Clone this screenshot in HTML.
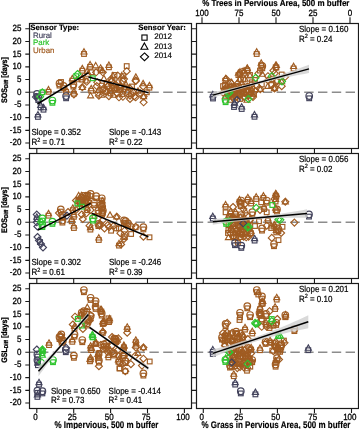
<!DOCTYPE html>
<html><head><meta charset="utf-8"><style>
html,body{margin:0;padding:0;background:#fff;width:359px;height:429px;overflow:hidden}
svg{display:block;will-change:transform}
.t{font-family:"Liberation Sans",sans-serif;font-size:8px;stroke:currentColor;stroke-width:0.18px}
text{fill:currentColor;color:#000;text-rendering:geometricPrecision}
.b{font-family:"Liberation Sans",sans-serif;font-size:8px;font-weight:bold;stroke:currentColor;stroke-width:0.15px}
.sub{font-size:5.5px}
.n{font-family:"Liberation Sans",sans-serif;font-size:8px;stroke:currentColor;stroke-width:0.25px}
.sup{font-size:5.5px}
</style></head><body>
<svg width="359" height="429" viewBox="0 0 359 429">
<rect width="359" height="429" fill="#fff"/>
<line x1="29.5" y1="92.25" x2="191.5" y2="92.25" stroke="#8c8c8c" stroke-width="1.4" stroke-dasharray="9.4 4.4" stroke-dashoffset="4.3"/>
<line x1="196.5" y1="92.25" x2="358.5" y2="92.25" stroke="#8c8c8c" stroke-width="1.4" stroke-dasharray="9.4 4.4" stroke-dashoffset="2.7"/>
<line x1="29.5" y1="222.25" x2="191.5" y2="222.25" stroke="#8c8c8c" stroke-width="1.4" stroke-dasharray="9.4 4.4" stroke-dashoffset="4.3"/>
<line x1="196.5" y1="222.25" x2="358.5" y2="222.25" stroke="#8c8c8c" stroke-width="1.4" stroke-dasharray="9.4 4.4" stroke-dashoffset="2.7"/>
<line x1="29.5" y1="352.25" x2="191.5" y2="352.25" stroke="#8c8c8c" stroke-width="1.4" stroke-dasharray="9.4 4.4" stroke-dashoffset="4.3"/>
<line x1="196.5" y1="352.25" x2="358.5" y2="352.25" stroke="#8c8c8c" stroke-width="1.4" stroke-dasharray="9.4 4.4" stroke-dashoffset="2.7"/>
<g fill="none" stroke-width="1.15">
<rect x="46.15" y="89.45" width="4.70" height="4.70" stroke="#a05c22"/>
<path d="M48.50 86.50L51.50 91.80H45.50Z" stroke="#a05c22"/>
<circle cx="59.50" cy="83.40" r="3.3" stroke="#a05c22"/>
<rect x="57.15" y="83.25" width="4.70" height="4.70" stroke="#a05c22"/>
<circle cx="63.50" cy="85.90" r="3.3" stroke="#a05c22"/>
<rect x="61.15" y="85.75" width="4.70" height="4.70" stroke="#a05c22"/>
<rect x="58.65" y="79.65" width="4.70" height="4.70" stroke="#a05c22"/>
<rect x="63.75" y="89.45" width="4.70" height="4.70" stroke="#a05c22"/>
<path d="M66.10 86.50L69.10 91.80H63.10Z" stroke="#a05c22"/>
<circle cx="73.40" cy="84.40" r="3.3" stroke="#a05c22"/>
<rect x="71.05" y="84.25" width="4.70" height="4.70" stroke="#a05c22"/>
<rect x="71.55" y="91.35" width="4.70" height="4.70" stroke="#a05c22"/>
<path d="M73.90 88.40L76.90 93.70H70.90Z" stroke="#a05c22"/>
<path d="M73.90 91.00L77.40 94.50L73.90 98.00L70.40 94.50Z" stroke="#a05c22"/>
<path d="M76.70 76.40L79.70 81.70H73.70Z" stroke="#a05c22"/>
<rect x="69.95" y="78.35" width="4.70" height="4.70" stroke="#a05c22"/>
<path d="M72.30 75.40L75.30 80.70H69.30Z" stroke="#a05c22"/>
<rect x="81.65" y="51.65" width="4.70" height="4.70" stroke="#a05c22"/>
<path d="M84.00 48.70L87.00 54.00H81.00Z" stroke="#a05c22"/>
<rect x="87.75" y="64.45" width="4.70" height="4.70" stroke="#a05c22"/>
<path d="M90.10 61.50L93.10 66.80H87.10Z" stroke="#a05c22"/>
<path d="M95.70 62.50L98.70 67.80H92.70Z" stroke="#a05c22"/>
<rect x="79.95" y="68.35" width="4.70" height="4.70" stroke="#a05c22"/>
<path d="M82.30 65.40L85.30 70.70H79.30Z" stroke="#a05c22"/>
<rect x="79.95" y="77.25" width="4.70" height="4.70" stroke="#a05c22"/>
<path d="M82.30 74.30L85.30 79.60H79.30Z" stroke="#a05c22"/>
<path d="M87.90 70.90L90.90 76.20H84.90Z" stroke="#a05c22"/>
<path d="M86.70 78.30L90.20 81.80L86.70 85.30L83.20 81.80Z" stroke="#a05c22"/>
<path d="M82.30 84.20L85.30 89.50H79.30Z" stroke="#a05c22"/>
<path d="M82.30 83.80L85.80 87.30L82.30 90.80L78.80 87.30Z" stroke="#a05c22"/>
<rect x="83.25" y="78.25" width="4.70" height="4.70" stroke="#a05c22"/>
<rect x="88.85" y="88.35" width="4.70" height="4.70" stroke="#a05c22"/>
<path d="M91.20 85.40L94.20 90.70H88.20Z" stroke="#a05c22"/>
<path d="M90.60 92.50L93.60 97.80H87.60Z" stroke="#a05c22"/>
<path d="M96.80 82.60L100.30 86.10L96.80 89.60L93.30 86.10Z" stroke="#a05c22"/>
<path d="M97.90 89.30L101.40 92.80L97.90 96.30L94.40 92.80Z" stroke="#a05c22"/>
<path d="M87.20 68.00L90.20 73.30H84.20Z" stroke="#a05c22"/>
<rect x="89.35" y="69.95" width="4.70" height="4.70" stroke="#a05c22"/>
<path d="M96.10 68.80L99.60 72.30L96.10 75.80L92.60 72.30Z" stroke="#a05c22"/>
<rect x="98.25" y="67.75" width="4.70" height="4.70" stroke="#a05c22"/>
<path d="M100.60 64.80L103.60 70.10H97.60Z" stroke="#a05c22"/>
<path d="M102.80 68.80L106.30 72.30L102.80 75.80L99.30 72.30Z" stroke="#a05c22"/>
<rect x="106.55" y="64.95" width="4.70" height="4.70" stroke="#a05c22"/>
<path d="M108.90 62.00L111.90 67.30H105.90Z" stroke="#a05c22"/>
<path d="M102.20 67.50L105.20 72.80H99.20Z" stroke="#a05c22"/>
<path d="M103.90 75.30L106.90 80.60H100.90Z" stroke="#a05c22"/>
<rect x="112.15" y="72.65" width="4.70" height="4.70" stroke="#a05c22"/>
<path d="M117.80 72.10L121.30 75.60L117.80 79.10L114.30 75.60Z" stroke="#a05c22"/>
<rect x="121.05" y="73.85" width="4.70" height="4.70" stroke="#a05c22"/>
<path d="M124.00 75.50L127.50 79.00L124.00 82.50L120.50 79.00Z" stroke="#a05c22"/>
<path d="M111.10 75.50L114.60 79.00L111.10 82.50L107.60 79.00Z" stroke="#a05c22"/>
<rect x="124.35" y="63.75" width="4.70" height="4.70" stroke="#a05c22"/>
<path d="M126.70 67.70L130.20 71.20L126.70 74.70L123.20 71.20Z" stroke="#a05c22"/>
<path d="M112.90 72.50L115.90 77.80H109.90Z" stroke="#a05c22"/>
<path d="M121.80 72.50L124.80 77.80H118.80Z" stroke="#a05c22"/>
<path d="M111.70 77.70L115.20 81.20L111.70 84.70L108.20 81.20Z" stroke="#a05c22"/>
<rect x="116.05" y="79.95" width="4.70" height="4.70" stroke="#a05c22"/>
<path d="M122.90 77.70L126.40 81.20L122.90 84.70L119.40 81.20Z" stroke="#a05c22"/>
<path d="M97.30 78.80L100.80 82.30L97.30 85.80L93.80 82.30Z" stroke="#a05c22"/>
<rect x="99.35" y="83.25" width="4.70" height="4.70" stroke="#a05c22"/>
<path d="M107.30 83.20L110.80 86.70L107.30 90.20L103.80 86.70Z" stroke="#a05c22"/>
<rect x="111.65" y="85.55" width="4.70" height="4.70" stroke="#a05c22"/>
<path d="M120.70 84.40L124.20 87.90L120.70 91.40L117.20 87.90Z" stroke="#a05c22"/>
<path d="M98.40 87.00L101.40 92.30H95.40Z" stroke="#a05c22"/>
<path d="M105.00 87.70L108.50 91.20L105.00 94.70L101.50 91.20Z" stroke="#a05c22"/>
<rect x="108.25" y="91.05" width="4.70" height="4.70" stroke="#a05c22"/>
<path d="M117.30 89.90L120.80 93.40L117.30 96.90L113.80 93.40Z" stroke="#a05c22"/>
<path d="M122.90 93.30L126.40 96.80L122.90 100.30L119.40 96.80Z" stroke="#a05c22"/>
<path d="M98.90 92.20L102.40 95.70L98.90 99.20L95.40 95.70Z" stroke="#a05c22"/>
<rect x="100.95" y="87.15" width="4.70" height="4.70" stroke="#a05c22"/>
<path d="M106.70 88.20L110.20 91.70L106.70 95.20L103.20 91.70Z" stroke="#a05c22"/>
<path d="M101.70 91.90L104.70 97.20H98.70Z" stroke="#a05c22"/>
<rect x="112.15" y="87.15" width="4.70" height="4.70" stroke="#a05c22"/>
<path d="M116.70 84.90L120.20 88.40L116.70 91.90L113.20 88.40Z" stroke="#a05c22"/>
<rect x="119.95" y="91.65" width="4.70" height="4.70" stroke="#a05c22"/>
<path d="M119.00 93.80L122.50 97.30L119.00 100.80L115.50 97.30Z" stroke="#a05c22"/>
<path d="M130.00 92.10L133.50 95.60L130.00 99.10L126.50 95.60Z" stroke="#a05c22"/>
<rect x="125.55" y="89.35" width="4.70" height="4.70" stroke="#a05c22"/>
<path d="M133.40 89.30L136.90 92.80L133.40 96.30L129.90 92.80Z" stroke="#a05c22"/>
<path d="M113.40 91.90L116.40 97.20H110.40Z" stroke="#a05c22"/>
<path d="M108.90 92.70L112.40 96.20L108.90 99.70L105.40 96.20Z" stroke="#a05c22"/>
<rect x="104.35" y="81.55" width="4.70" height="4.70" stroke="#a05c22"/>
<path d="M111.10 78.20L114.60 81.70L111.10 85.20L107.60 81.70Z" stroke="#a05c22"/>
<rect x="122.15" y="84.95" width="4.70" height="4.70" stroke="#a05c22"/>
<path d="M120.00 82.60L123.50 86.10L120.00 89.60L116.50 86.10Z" stroke="#a05c22"/>
<path d="M130.00 95.50L133.50 99.00L130.00 102.50L126.50 99.00Z" stroke="#a05c22"/>
<path d="M135.70 93.80L139.20 97.30L135.70 100.80L132.20 97.30Z" stroke="#a05c22"/>
<path d="M126.00 81.40L129.00 86.70H123.00Z" stroke="#a05c22"/>
<path d="M129.50 84.50L133.00 88.00L129.50 91.50L126.00 88.00Z" stroke="#a05c22"/>
<rect x="129.65" y="84.15" width="4.70" height="4.70" stroke="#a05c22"/>
<path d="M135.80 73.90L138.80 79.20H132.80Z" stroke="#a05c22"/>
<path d="M135.80 77.50L139.30 81.00L135.80 84.50L132.30 81.00Z" stroke="#a05c22"/>
<path d="M135.70 77.10L139.20 80.60L135.70 84.10L132.20 80.60Z" stroke="#a05c22"/>
<path d="M143.10 80.40L146.10 85.70H140.10Z" stroke="#a05c22"/>
<path d="M143.10 83.00L146.60 86.50L143.10 90.00L139.60 86.50Z" stroke="#a05c22"/>
<rect x="147.05" y="85.35" width="4.70" height="4.70" stroke="#a05c22"/>
<path d="M149.40 82.40L152.40 87.70H146.40Z" stroke="#a05c22"/>
<rect x="128.65" y="92.05" width="4.70" height="4.70" stroke="#a05c22"/>
<path d="M134.20 93.00L137.70 96.50L134.20 100.00L130.70 96.50Z" stroke="#a05c22"/>
<path d="M143.60 93.40L146.60 98.70H140.60Z" stroke="#a05c22"/>
<path d="M143.60 93.00L147.10 96.50L143.60 100.00L140.10 96.50Z" stroke="#a05c22"/>
<path d="M143.60 98.80L147.10 102.30L143.60 105.80L140.10 102.30Z" stroke="#a05c22"/>
<path d="M140.50 89.80L144.00 93.30L140.50 96.80L137.00 93.30Z" stroke="#a05c22"/>
<rect x="144.45" y="89.95" width="4.70" height="4.70" stroke="#a05c22"/>
<path d="M138.00 87.90L141.00 93.20H135.00Z" stroke="#a05c22"/>
<path d="M108.00 82.50L111.50 86.00L108.00 89.50L104.50 86.00Z" stroke="#a05c22"/>
<rect x="109.65" y="85.65" width="4.70" height="4.70" stroke="#a05c22"/>
<path d="M116.00 81.50L119.50 85.00L116.00 88.50L112.50 85.00Z" stroke="#a05c22"/>
<rect x="117.65" y="87.65" width="4.70" height="4.70" stroke="#a05c22"/>
<path d="M125.00 85.50L128.50 89.00L125.00 92.50L121.50 89.00Z" stroke="#a05c22"/>
<rect x="107.65" y="88.65" width="4.70" height="4.70" stroke="#a05c22"/>
<path d="M104.00 84.50L107.50 88.00L104.00 91.50L100.50 88.00Z" stroke="#a05c22"/>
<rect x="254.35" y="51.65" width="4.70" height="4.70" stroke="#a05c22"/>
<path d="M256.70 48.70L259.70 54.00H253.70Z" stroke="#a05c22"/>
<rect x="291.25" y="66.15" width="4.70" height="4.70" stroke="#a05c22"/>
<path d="M293.60 63.20L296.60 68.50H290.60Z" stroke="#a05c22"/>
<rect x="274.05" y="65.15" width="4.70" height="4.70" stroke="#a05c22"/>
<path d="M276.40 62.20L279.40 67.50H273.40Z" stroke="#a05c22"/>
<rect x="273.35" y="65.05" width="4.70" height="4.70" stroke="#a05c22"/>
<path d="M275.70 62.10L278.70 67.40H272.70Z" stroke="#a05c22"/>
<circle cx="262.30" cy="66.10" r="3.3" stroke="#a05c22"/>
<rect x="259.95" y="65.95" width="4.70" height="4.70" stroke="#a05c22"/>
<rect x="258.85" y="62.85" width="4.70" height="4.70" stroke="#a05c22"/>
<path d="M261.20 59.90L264.20 65.20H258.20Z" stroke="#a05c22"/>
<rect x="244.95" y="68.35" width="4.70" height="4.70" stroke="#a05c22"/>
<path d="M247.30 65.40L250.30 70.70H244.30Z" stroke="#a05c22"/>
<rect x="244.85" y="67.85" width="4.70" height="4.70" stroke="#a05c22"/>
<path d="M247.20 64.90L250.20 70.20H244.20Z" stroke="#a05c22"/>
<rect x="237.65" y="71.65" width="4.70" height="4.70" stroke="#a05c22"/>
<path d="M240.00 68.70L243.00 74.00H237.00Z" stroke="#a05c22"/>
<rect x="236.05" y="72.75" width="4.70" height="4.70" stroke="#a05c22"/>
<path d="M238.40 69.80L241.40 75.10H235.40Z" stroke="#a05c22"/>
<rect x="223.25" y="78.35" width="4.70" height="4.70" stroke="#a05c22"/>
<path d="M225.60 75.40L228.60 80.70H222.60Z" stroke="#a05c22"/>
<rect x="241.65" y="70.55" width="4.70" height="4.70" stroke="#a05c22"/>
<path d="M244.00 67.60L247.00 72.90H241.00Z" stroke="#a05c22"/>
<path d="M226.10 75.50L229.60 79.00L226.10 82.50L222.60 79.00Z" stroke="#a05c22"/>
<rect x="222.65" y="82.65" width="4.70" height="4.70" stroke="#a05c22"/>
<path d="M231.70 79.20L234.70 84.50H228.70Z" stroke="#a05c22"/>
<path d="M230.60 79.30L234.10 82.80L230.60 86.30L227.10 82.80Z" stroke="#a05c22"/>
<rect x="223.85" y="87.15" width="4.70" height="4.70" stroke="#a05c22"/>
<path d="M232.90 84.90L236.40 88.40L232.90 91.90L229.40 88.40Z" stroke="#a05c22"/>
<path d="M239.50 75.90L242.50 81.20H236.50Z" stroke="#a05c22"/>
<rect x="238.35" y="77.15" width="4.70" height="4.70" stroke="#a05c22"/>
<path d="M237.30 80.40L240.80 83.90L237.30 87.40L233.80 83.90Z" stroke="#a05c22"/>
<path d="M245.00 75.90L248.00 81.20H242.00Z" stroke="#a05c22"/>
<path d="M242.90 83.80L246.40 87.30L242.90 90.80L239.40 87.30Z" stroke="#a05c22"/>
<path d="M238.40 88.20L241.90 91.70L238.40 95.20L234.90 91.70Z" stroke="#a05c22"/>
<path d="M250.00 72.50L253.00 77.80H247.00Z" stroke="#a05c22"/>
<rect x="247.65" y="72.65" width="4.70" height="4.70" stroke="#a05c22"/>
<path d="M242.20 68.20L245.70 71.70L242.20 75.20L238.70 71.70Z" stroke="#a05c22"/>
<rect x="240.95" y="77.15" width="4.70" height="4.70" stroke="#a05c22"/>
<path d="M241.70 81.00L245.20 84.50L241.70 88.00L238.20 84.50Z" stroke="#a05c22"/>
<path d="M247.30 83.10L250.30 88.40H244.30Z" stroke="#a05c22"/>
<rect x="249.35" y="79.95" width="4.70" height="4.70" stroke="#a05c22"/>
<path d="M258.40 69.90L261.90 73.40L258.40 76.90L254.90 73.40Z" stroke="#a05c22"/>
<rect x="257.65" y="68.25" width="4.70" height="4.70" stroke="#a05c22"/>
<path d="M262.30 70.90L265.30 76.20H259.30Z" stroke="#a05c22"/>
<path d="M267.90 72.70L271.40 76.20L267.90 79.70L264.40 76.20Z" stroke="#a05c22"/>
<path d="M273.40 67.10L276.90 70.60L273.40 74.10L269.90 70.60Z" stroke="#a05c22"/>
<rect x="259.45" y="82.15" width="4.70" height="4.70" stroke="#a05c22"/>
<path d="M260.30 86.10L263.30 91.40H257.30Z" stroke="#a05c22"/>
<path d="M260.30 85.70L263.80 89.20L260.30 92.70L256.80 89.20Z" stroke="#a05c22"/>
<path d="M267.90 83.00L270.90 88.30H264.90Z" stroke="#a05c22"/>
<path d="M274.50 85.30L277.50 90.60H271.50Z" stroke="#a05c22"/>
<path d="M274.50 84.90L278.00 88.40L274.50 91.90L271.00 88.40Z" stroke="#a05c22"/>
<path d="M276.80 78.20L280.30 81.70L276.80 85.20L273.30 81.70Z" stroke="#a05c22"/>
<path d="M274.70 69.80L278.20 73.30L274.70 76.80L271.20 73.30Z" stroke="#a05c22"/>
<rect x="279.35" y="72.15" width="4.70" height="4.70" stroke="#a05c22"/>
<path d="M285.20 73.30L288.70 76.80L285.20 80.30L281.70 76.80Z" stroke="#a05c22"/>
<rect x="269.95" y="76.85" width="4.70" height="4.70" stroke="#a05c22"/>
<path d="M277.00 76.80L280.50 80.30L277.00 83.80L273.50 80.30Z" stroke="#a05c22"/>
<path d="M281.70 78.40L284.70 83.70H278.70Z" stroke="#a05c22"/>
<path d="M274.70 83.80L278.20 87.30L274.70 90.80L271.20 87.30Z" stroke="#a05c22"/>
<path d="M281.70 82.70L285.20 86.20L281.70 89.70L278.20 86.20Z" stroke="#a05c22"/>
<rect x="268.85" y="82.65" width="4.70" height="4.70" stroke="#a05c22"/>
<path d="M268.00 77.00L271.50 80.50L268.00 84.00L264.50 80.50Z" stroke="#a05c22"/>
<rect x="252.65" y="77.65" width="4.70" height="4.70" stroke="#a05c22"/>
<path d="M256.00 81.50L259.50 85.00L256.00 88.50L252.50 85.00Z" stroke="#a05c22"/>
<path d="M228.00 84.50L231.50 88.00L228.00 91.50L224.50 88.00Z" stroke="#a05c22"/>
<rect x="228.65" y="89.65" width="4.70" height="4.70" stroke="#a05c22"/>
<path d="M235.00 85.50L238.50 89.00L235.00 92.50L231.50 89.00Z" stroke="#a05c22"/>
<rect x="235.65" y="91.65" width="4.70" height="4.70" stroke="#a05c22"/>
<path d="M242.00 87.50L245.50 91.00L242.00 94.50L238.50 91.00Z" stroke="#a05c22"/>
<path d="M245.00 90.90L248.00 96.20H242.00Z" stroke="#a05c22"/>
<path d="M248.00 86.50L251.50 90.00L248.00 93.50L244.50 90.00Z" stroke="#a05c22"/>
<rect x="248.65" y="90.65" width="4.70" height="4.70" stroke="#a05c22"/>
<path d="M244.00 93.50L247.50 97.00L244.00 100.50L240.50 97.00Z" stroke="#a05c22"/>
<path d="M236.00 93.50L239.50 97.00L236.00 100.50L232.50 97.00Z" stroke="#a05c22"/>
<rect x="249.65" y="85.65" width="4.70" height="4.70" stroke="#a05c22"/>
<path d="M255.00 87.50L258.50 91.00L255.00 94.50L251.50 91.00Z" stroke="#a05c22"/>
<path d="M247.00 96.90L250.00 102.20H244.00Z" stroke="#a05c22"/>
<rect x="237.65" y="96.65" width="4.70" height="4.70" stroke="#a05c22"/>
<path d="M232.00 93.50L235.50 97.00L232.00 100.50L228.50 97.00Z" stroke="#a05c22"/>
<path d="M230.00 96.90L233.00 102.20H227.00Z" stroke="#a05c22"/>
<path d="M253.00 93.50L256.50 97.00L253.00 100.50L249.50 97.00Z" stroke="#a05c22"/>
<rect x="224.65" y="87.65" width="4.70" height="4.70" stroke="#a05c22"/>
<path d="M233.00 89.50L236.50 93.00L233.00 96.50L229.50 93.00Z" stroke="#a05c22"/>
<rect x="233.65" y="83.65" width="4.70" height="4.70" stroke="#a05c22"/>
<path d="M240.00 91.50L243.50 95.00L240.00 98.50L236.50 95.00Z" stroke="#a05c22"/>
<rect x="241.65" y="86.65" width="4.70" height="4.70" stroke="#a05c22"/>
<path d="M249.00 91.50L252.50 95.00L249.00 98.50L245.50 95.00Z" stroke="#a05c22"/>
<rect x="243.65" y="89.65" width="4.70" height="4.70" stroke="#a05c22"/>
<path d="M237.00 86.50L240.50 90.00L237.00 93.50L233.50 90.00Z" stroke="#a05c22"/>
<rect x="227.65" y="84.65" width="4.70" height="4.70" stroke="#a05c22"/>
<path d="M251.00 81.50L254.50 85.00L251.00 88.50L247.50 85.00Z" stroke="#a05c22"/>
<rect x="251.65" y="91.65" width="4.70" height="4.70" stroke="#a05c22"/>
<rect x="220.75" y="83.75" width="4.70" height="4.70" stroke="#a05c22"/>
<path d="M227.00 82.90L230.00 88.20H224.00Z" stroke="#a05c22"/>
<path d="M231.30 83.00L234.80 86.50L231.30 90.00L227.80 86.50Z" stroke="#a05c22"/>
<rect x="231.55" y="84.45" width="4.70" height="4.70" stroke="#a05c22"/>
<path d="M238.00 83.80L241.00 89.10H235.00Z" stroke="#a05c22"/>
<rect x="239.85" y="84.55" width="4.70" height="4.70" stroke="#a05c22"/>
<path d="M246.20 83.60L249.20 88.90H243.20Z" stroke="#a05c22"/>
<path d="M249.10 83.50L252.60 87.00L249.10 90.50L245.60 87.00Z" stroke="#a05c22"/>
<path d="M224.50 85.60L228.00 89.10L224.50 92.60L221.00 89.10Z" stroke="#a05c22"/>
<path d="M228.60 86.50L232.10 90.00L228.60 93.50L225.10 90.00Z" stroke="#a05c22"/>
<path d="M232.70 87.10L235.70 92.40H229.70Z" stroke="#a05c22"/>
<path d="M236.60 86.70L239.60 92.00H233.60Z" stroke="#a05c22"/>
<rect x="238.25" y="86.85" width="4.70" height="4.70" stroke="#a05c22"/>
<rect x="241.45" y="87.05" width="4.70" height="4.70" stroke="#a05c22"/>
<path d="M248.00 87.00L251.00 92.30H245.00Z" stroke="#a05c22"/>
<path d="M251.40 86.50L254.40 91.80H248.40Z" stroke="#a05c22"/>
<path d="M223.10 89.30L226.60 92.80L223.10 96.30L219.60 92.80Z" stroke="#a05c22"/>
<rect x="225.05" y="90.75" width="4.70" height="4.70" stroke="#a05c22"/>
<path d="M231.20 90.00L234.70 93.50L231.20 97.00L227.70 93.50Z" stroke="#a05c22"/>
<rect x="232.35" y="90.35" width="4.70" height="4.70" stroke="#a05c22"/>
<path d="M238.50 89.10L242.00 92.60L238.50 96.10L235.00 92.60Z" stroke="#a05c22"/>
<path d="M241.70 88.90L245.20 92.40L241.70 95.90L238.20 92.40Z" stroke="#a05c22"/>
<path d="M245.10 90.20L248.10 95.50H242.10Z" stroke="#a05c22"/>
<path d="M250.20 89.20L253.20 94.50H247.20Z" stroke="#a05c22"/>
<path d="M225.20 93.40L228.20 98.70H222.20Z" stroke="#a05c22"/>
<path d="M228.80 92.90L232.30 96.40L228.80 99.90L225.30 96.40Z" stroke="#a05c22"/>
<path d="M232.70 92.80L235.70 98.10H229.70Z" stroke="#a05c22"/>
<path d="M236.20 93.20L239.70 96.70L236.20 100.20L232.70 96.70Z" stroke="#a05c22"/>
<path d="M239.20 92.10L242.70 95.60L239.20 99.10L235.70 95.60Z" stroke="#a05c22"/>
<path d="M244.50 93.20L248.00 96.70L244.50 100.20L241.00 96.70Z" stroke="#a05c22"/>
<path d="M247.80 92.20L251.30 95.70L247.80 99.20L244.30 95.70Z" stroke="#a05c22"/>
<path d="M252.20 92.40L255.70 95.90L252.20 99.40L248.70 95.90Z" stroke="#a05c22"/>
<rect x="46.15" y="213.35" width="4.70" height="4.70" stroke="#a05c22"/>
<path d="M48.50 210.40L51.50 215.70H45.50Z" stroke="#a05c22"/>
<circle cx="60.80" cy="209.40" r="3.3" stroke="#a05c22"/>
<rect x="58.45" y="209.25" width="4.70" height="4.70" stroke="#a05c22"/>
<circle cx="62.40" cy="215.00" r="3.3" stroke="#a05c22"/>
<rect x="60.05" y="214.85" width="4.70" height="4.70" stroke="#a05c22"/>
<circle cx="62.40" cy="220.40" r="3.3" stroke="#a05c22"/>
<rect x="60.05" y="220.25" width="4.70" height="4.70" stroke="#a05c22"/>
<path d="M59.00 209.50L62.50 213.00L59.00 216.50L55.50 213.00Z" stroke="#a05c22"/>
<circle cx="90.60" cy="193.90" r="3.3" stroke="#a05c22"/>
<rect x="88.25" y="193.75" width="4.70" height="4.70" stroke="#a05c22"/>
<circle cx="96.20" cy="196.10" r="3.3" stroke="#a05c22"/>
<rect x="93.85" y="195.95" width="4.70" height="4.70" stroke="#a05c22"/>
<circle cx="101.80" cy="198.30" r="3.3" stroke="#a05c22"/>
<rect x="99.45" y="198.15" width="4.70" height="4.70" stroke="#a05c22"/>
<circle cx="82.00" cy="197.90" r="3.3" stroke="#a05c22"/>
<rect x="79.65" y="197.75" width="4.70" height="4.70" stroke="#a05c22"/>
<circle cx="86.50" cy="196.40" r="3.3" stroke="#a05c22"/>
<rect x="84.15" y="196.25" width="4.70" height="4.70" stroke="#a05c22"/>
<circle cx="80.00" cy="200.90" r="3.3" stroke="#a05c22"/>
<rect x="77.65" y="200.75" width="4.70" height="4.70" stroke="#a05c22"/>
<rect x="83.65" y="199.15" width="4.70" height="4.70" stroke="#a05c22"/>
<path d="M76.00 197.00L79.50 200.50L76.00 204.00L72.50 200.50Z" stroke="#a05c22"/>
<circle cx="94.00" cy="202.80" r="3.3" stroke="#a05c22"/>
<rect x="91.65" y="202.65" width="4.70" height="4.70" stroke="#a05c22"/>
<circle cx="100.70" cy="205.00" r="3.3" stroke="#a05c22"/>
<rect x="98.35" y="204.85" width="4.70" height="4.70" stroke="#a05c22"/>
<rect x="70.45" y="207.85" width="4.70" height="4.70" stroke="#a05c22"/>
<path d="M72.80 204.90L75.80 210.20H69.80Z" stroke="#a05c22"/>
<rect x="84.95" y="207.85" width="4.70" height="4.70" stroke="#a05c22"/>
<path d="M87.30 204.90L90.30 210.20H84.30Z" stroke="#a05c22"/>
<path d="M90.60 206.50L94.10 210.00L90.60 213.50L87.10 210.00Z" stroke="#a05c22"/>
<circle cx="98.40" cy="210.60" r="3.3" stroke="#a05c22"/>
<rect x="96.05" y="210.45" width="4.70" height="4.70" stroke="#a05c22"/>
<circle cx="102.90" cy="210.60" r="3.3" stroke="#a05c22"/>
<rect x="100.55" y="210.45" width="4.70" height="4.70" stroke="#a05c22"/>
<path d="M81.70 211.00L85.20 214.50L81.70 218.00L78.20 214.50Z" stroke="#a05c22"/>
<rect x="71.55" y="214.45" width="4.70" height="4.70" stroke="#a05c22"/>
<path d="M73.90 211.50L76.90 216.80H70.90Z" stroke="#a05c22"/>
<path d="M86.20 209.90L89.70 213.40L86.20 216.90L82.70 213.40Z" stroke="#a05c22"/>
<rect x="69.35" y="218.95" width="4.70" height="4.70" stroke="#a05c22"/>
<path d="M71.70 216.00L74.70 221.30H68.70Z" stroke="#a05c22"/>
<rect x="71.55" y="225.65" width="4.70" height="4.70" stroke="#a05c22"/>
<path d="M73.90 222.70L76.90 228.00H70.90Z" stroke="#a05c22"/>
<path d="M82.80 215.50L86.30 219.00L82.80 222.50L79.30 219.00Z" stroke="#a05c22"/>
<path d="M89.50 222.20L93.00 225.70L89.50 229.20L86.00 225.70Z" stroke="#a05c22"/>
<circle cx="98.40" cy="223.90" r="3.3" stroke="#a05c22"/>
<rect x="96.05" y="223.75" width="4.70" height="4.70" stroke="#a05c22"/>
<path d="M102.90 216.60L106.40 220.10L102.90 223.60L99.40 220.10Z" stroke="#a05c22"/>
<rect x="99.85" y="200.55" width="4.70" height="4.70" stroke="#a05c22"/>
<path d="M102.20 197.60L105.20 202.90H99.20Z" stroke="#a05c22"/>
<circle cx="102.20" cy="206.70" r="3.3" stroke="#a05c22"/>
<rect x="99.85" y="206.55" width="4.70" height="4.70" stroke="#a05c22"/>
<circle cx="102.20" cy="212.20" r="3.3" stroke="#a05c22"/>
<rect x="99.85" y="212.05" width="4.70" height="4.70" stroke="#a05c22"/>
<path d="M110.00 211.90L113.00 217.20H107.00Z" stroke="#a05c22"/>
<path d="M116.70 213.60L119.70 218.90H113.70Z" stroke="#a05c22"/>
<path d="M116.70 213.20L120.20 216.70L116.70 220.20L113.20 216.70Z" stroke="#a05c22"/>
<circle cx="125.60" cy="221.10" r="3.3" stroke="#a05c22"/>
<rect x="123.25" y="220.95" width="4.70" height="4.70" stroke="#a05c22"/>
<path d="M131.20 222.70L134.70 226.20L131.20 229.70L127.70 226.20Z" stroke="#a05c22"/>
<rect x="133.35" y="224.95" width="4.70" height="4.70" stroke="#a05c22"/>
<path d="M100.00 220.50L103.50 224.00L100.00 227.50L96.50 224.00Z" stroke="#a05c22"/>
<path d="M107.80 221.60L111.30 225.10L107.80 228.60L104.30 225.10Z" stroke="#a05c22"/>
<path d="M113.40 222.70L116.90 226.20L113.40 229.70L109.90 226.20Z" stroke="#a05c22"/>
<rect x="116.65" y="226.05" width="4.70" height="4.70" stroke="#a05c22"/>
<path d="M124.50 227.20L128.00 230.70L124.50 234.20L121.00 230.70Z" stroke="#a05c22"/>
<path d="M104.50 224.90L108.00 228.40L104.50 231.90L101.00 228.40Z" stroke="#a05c22"/>
<rect x="108.75" y="228.35" width="4.70" height="4.70" stroke="#a05c22"/>
<circle cx="124.00" cy="220.40" r="3.3" stroke="#a05c22"/>
<rect x="121.65" y="220.25" width="4.70" height="4.70" stroke="#a05c22"/>
<circle cx="128.00" cy="223.40" r="3.3" stroke="#a05c22"/>
<rect x="125.65" y="223.25" width="4.70" height="4.70" stroke="#a05c22"/>
<path d="M135.60 223.20L139.10 226.70L135.60 230.20L132.10 226.70Z" stroke="#a05c22"/>
<circle cx="143.40" cy="227.20" r="3.3" stroke="#a05c22"/>
<rect x="141.05" y="227.05" width="4.70" height="4.70" stroke="#a05c22"/>
<circle cx="124.50" cy="235.00" r="3.3" stroke="#a05c22"/>
<rect x="122.15" y="234.85" width="4.70" height="4.70" stroke="#a05c22"/>
<path d="M124.00 235.50L127.50 239.00L124.00 242.50L120.50 239.00Z" stroke="#a05c22"/>
<rect x="128.75" y="231.65" width="4.70" height="4.70" stroke="#a05c22"/>
<path d="M143.40 233.20L146.90 236.70L143.40 240.20L139.90 236.70Z" stroke="#a05c22"/>
<rect x="147.15" y="234.95" width="4.70" height="4.70" stroke="#a05c22"/>
<path d="M121.10 241.00L124.60 244.50L121.10 248.00L117.60 244.50Z" stroke="#a05c22"/>
<rect x="88.05" y="227.25" width="4.70" height="4.70" stroke="#a05c22"/>
<path d="M90.40 224.30L93.40 229.60H87.40Z" stroke="#a05c22"/>
<path d="M99.50 222.10L103.00 225.60L99.50 229.10L96.00 225.60Z" stroke="#a05c22"/>
<path d="M109.20 223.50L112.70 227.00L109.20 230.50L105.70 227.00Z" stroke="#a05c22"/>
<rect x="113.85" y="226.05" width="4.70" height="4.70" stroke="#a05c22"/>
<path d="M120.40 229.70L123.90 233.20L120.40 236.70L116.90 233.20Z" stroke="#a05c22"/>
<rect x="96.45" y="237.65" width="4.70" height="4.70" stroke="#a05c22"/>
<path d="M98.80 234.70L101.80 240.00H95.80Z" stroke="#a05c22"/>
<rect x="116.65" y="243.25" width="4.70" height="4.70" stroke="#a05c22"/>
<path d="M119.00 240.30L122.00 245.60H116.00Z" stroke="#a05c22"/>
<path d="M76.00 206.50L79.50 210.00L76.00 213.50L72.50 210.00Z" stroke="#a05c22"/>
<rect x="92.15" y="213.65" width="4.70" height="4.70" stroke="#a05c22"/>
<path d="M68.00 208.50L71.50 212.00L68.00 215.50L64.50 212.00Z" stroke="#a05c22"/>
<path d="M78.60 192.30L81.60 197.60H75.60Z" stroke="#a05c22"/>
<path d="M81.40 192.30L84.40 197.60H78.40Z" stroke="#a05c22"/>
<rect x="82.15" y="192.65" width="4.70" height="4.70" stroke="#a05c22"/>
<rect x="85.55" y="192.45" width="4.70" height="4.70" stroke="#a05c22"/>
<path d="M79.80 195.00L83.30 198.50L79.80 202.00L76.30 198.50Z" stroke="#a05c22"/>
<path d="M83.40 194.40L86.90 197.90L83.40 201.40L79.90 197.90Z" stroke="#a05c22"/>
<path d="M87.00 195.00L90.00 200.30H84.00Z" stroke="#a05c22"/>
<rect x="75.85" y="199.05" width="4.70" height="4.70" stroke="#a05c22"/>
<path d="M80.80 197.10L84.30 200.60L80.80 204.10L77.30 200.60Z" stroke="#a05c22"/>
<rect x="82.85" y="198.95" width="4.70" height="4.70" stroke="#a05c22"/>
<path d="M88.40 197.90L91.90 201.40L88.40 204.90L84.90 201.40Z" stroke="#a05c22"/>
<rect x="77.65" y="201.65" width="4.70" height="4.70" stroke="#a05c22"/>
<path d="M83.20 200.20L86.70 203.70L83.20 207.20L79.70 203.70Z" stroke="#a05c22"/>
<path d="M87.10 200.30L90.60 203.80L87.10 207.30L83.60 203.80Z" stroke="#a05c22"/>
<rect x="223.25" y="204.45" width="4.70" height="4.70" stroke="#a05c22"/>
<path d="M225.60 201.50L228.60 206.80H222.60Z" stroke="#a05c22"/>
<rect x="223.25" y="209.95" width="4.70" height="4.70" stroke="#a05c22"/>
<rect x="228.25" y="211.15" width="4.70" height="4.70" stroke="#a05c22"/>
<path d="M230.60 208.20L233.60 213.50H227.60Z" stroke="#a05c22"/>
<rect x="233.25" y="211.65" width="4.70" height="4.70" stroke="#a05c22"/>
<path d="M235.60 208.70L238.60 214.00H232.60Z" stroke="#a05c22"/>
<rect x="237.15" y="199.45" width="4.70" height="4.70" stroke="#a05c22"/>
<path d="M239.50 196.50L242.50 201.80H236.50Z" stroke="#a05c22"/>
<circle cx="240.70" cy="203.90" r="3.3" stroke="#a05c22"/>
<rect x="238.35" y="203.75" width="4.70" height="4.70" stroke="#a05c22"/>
<path d="M243.40 205.50L246.90 209.00L243.40 212.50L239.90 209.00Z" stroke="#a05c22"/>
<rect x="229.35" y="216.75" width="4.70" height="4.70" stroke="#a05c22"/>
<path d="M231.70 213.80L234.70 219.10H228.70Z" stroke="#a05c22"/>
<rect x="245.45" y="197.25" width="4.70" height="4.70" stroke="#a05c22"/>
<path d="M247.80 194.30L250.80 199.60H244.80Z" stroke="#a05c22"/>
<rect x="253.85" y="196.65" width="4.70" height="4.70" stroke="#a05c22"/>
<path d="M256.20 193.70L259.20 199.00H253.20Z" stroke="#a05c22"/>
<rect x="261.05" y="195.55" width="4.70" height="4.70" stroke="#a05c22"/>
<path d="M263.40 192.60L266.40 197.90H260.40Z" stroke="#a05c22"/>
<rect x="273.35" y="193.35" width="4.70" height="4.70" stroke="#a05c22"/>
<path d="M275.70 190.40L278.70 195.70H272.70Z" stroke="#a05c22"/>
<circle cx="241.10" cy="200.50" r="3.3" stroke="#a05c22"/>
<rect x="238.75" y="200.35" width="4.70" height="4.70" stroke="#a05c22"/>
<path d="M244.50 201.00L248.00 204.50L244.50 208.00L241.00 204.50Z" stroke="#a05c22"/>
<rect x="248.75" y="201.15" width="4.70" height="4.70" stroke="#a05c22"/>
<path d="M251.10 198.20L254.10 203.50H248.10Z" stroke="#a05c22"/>
<rect x="258.85" y="199.95" width="4.70" height="4.70" stroke="#a05c22"/>
<circle cx="266.70" cy="200.50" r="3.3" stroke="#a05c22"/>
<rect x="264.35" y="200.35" width="4.70" height="4.70" stroke="#a05c22"/>
<path d="M274.50 195.40L278.00 198.90L274.50 202.40L271.00 198.90Z" stroke="#a05c22"/>
<rect x="261.65" y="206.65" width="4.70" height="4.70" stroke="#a05c22"/>
<path d="M264.00 203.70L267.00 209.00H261.00Z" stroke="#a05c22"/>
<path d="M245.00 207.50L248.00 212.80H242.00Z" stroke="#a05c22"/>
<circle cx="252.30" cy="212.20" r="3.3" stroke="#a05c22"/>
<rect x="249.95" y="212.05" width="4.70" height="4.70" stroke="#a05c22"/>
<rect x="264.35" y="209.95" width="4.70" height="4.70" stroke="#a05c22"/>
<path d="M260.00 206.50L263.50 210.00L260.00 213.50L256.50 210.00Z" stroke="#a05c22"/>
<rect x="273.35" y="207.85" width="4.70" height="4.70" stroke="#a05c22"/>
<path d="M275.70 204.90L278.70 210.20H272.70Z" stroke="#a05c22"/>
<circle cx="241.10" cy="215.00" r="3.3" stroke="#a05c22"/>
<rect x="238.75" y="214.85" width="4.70" height="4.70" stroke="#a05c22"/>
<path d="M250.00 216.50L253.50 220.00L250.00 223.50L246.50 220.00Z" stroke="#a05c22"/>
<rect x="256.65" y="218.85" width="4.70" height="4.70" stroke="#a05c22"/>
<rect x="265.55" y="218.35" width="4.70" height="4.70" stroke="#a05c22"/>
<path d="M267.90 215.40L270.90 220.70H264.90Z" stroke="#a05c22"/>
<rect x="268.85" y="225.65" width="4.70" height="4.70" stroke="#a05c22"/>
<path d="M271.20 222.70L274.20 228.00H268.20Z" stroke="#a05c22"/>
<circle cx="276.80" cy="225.10" r="3.3" stroke="#a05c22"/>
<rect x="274.45" y="224.95" width="4.70" height="4.70" stroke="#a05c22"/>
<path d="M266.70 222.20L270.20 225.70L266.70 229.20L263.20 225.70Z" stroke="#a05c22"/>
<rect x="273.95" y="194.25" width="4.70" height="4.70" stroke="#a05c22"/>
<path d="M276.30 191.30L279.30 196.60H273.30Z" stroke="#a05c22"/>
<path d="M285.30 198.60L288.30 203.90H282.30Z" stroke="#a05c22"/>
<path d="M285.30 198.20L288.80 201.70L285.30 205.20L281.80 201.70Z" stroke="#a05c22"/>
<rect x="273.25" y="199.15" width="4.70" height="4.70" stroke="#a05c22"/>
<path d="M275.60 196.20L278.60 201.50H272.60Z" stroke="#a05c22"/>
<circle cx="277.00" cy="209.40" r="3.3" stroke="#a05c22"/>
<rect x="274.65" y="209.25" width="4.70" height="4.70" stroke="#a05c22"/>
<path d="M294.40 219.10L297.90 222.60L294.40 226.10L290.90 222.60Z" stroke="#a05c22"/>
<rect x="271.85" y="224.25" width="4.70" height="4.70" stroke="#a05c22"/>
<path d="M274.20 221.30L277.20 226.60H271.20Z" stroke="#a05c22"/>
<rect x="280.15" y="224.45" width="4.70" height="4.70" stroke="#a05c22"/>
<circle cx="278.40" cy="229.00" r="3.3" stroke="#a05c22"/>
<rect x="276.05" y="228.85" width="4.70" height="4.70" stroke="#a05c22"/>
<path d="M281.10 229.50L284.60 233.00L281.10 236.50L277.60 233.00Z" stroke="#a05c22"/>
<rect x="228.55" y="227.75" width="4.70" height="4.70" stroke="#a05c22"/>
<path d="M230.90 224.80L233.90 230.10H227.90Z" stroke="#a05c22"/>
<rect x="235.55" y="223.75" width="4.70" height="4.70" stroke="#a05c22"/>
<circle cx="233.70" cy="235.30" r="3.3" stroke="#a05c22"/>
<rect x="231.35" y="235.15" width="4.70" height="4.70" stroke="#a05c22"/>
<rect x="239.65" y="232.15" width="4.70" height="4.70" stroke="#a05c22"/>
<path d="M246.20 233.80L249.70 237.30L246.20 240.80L242.70 237.30Z" stroke="#a05c22"/>
<rect x="235.55" y="240.35" width="4.70" height="4.70" stroke="#a05c22"/>
<path d="M237.90 237.40L240.90 242.70H234.90Z" stroke="#a05c22"/>
<circle cx="229.50" cy="217.20" r="3.3" stroke="#a05c22"/>
<rect x="227.15" y="217.05" width="4.70" height="4.70" stroke="#a05c22"/>
<path d="M236.00 217.50L239.50 221.00L236.00 224.50L232.50 221.00Z" stroke="#a05c22"/>
<rect x="238.65" y="219.65" width="4.70" height="4.70" stroke="#a05c22"/>
<rect x="242.65" y="223.85" width="4.70" height="4.70" stroke="#a05c22"/>
<path d="M245.00 220.90L248.00 226.20H242.00Z" stroke="#a05c22"/>
<circle cx="238.00" cy="230.40" r="3.3" stroke="#a05c22"/>
<rect x="235.65" y="230.25" width="4.70" height="4.70" stroke="#a05c22"/>
<path d="M243.00 225.50L246.50 229.00L243.00 232.50L239.50 229.00Z" stroke="#a05c22"/>
<rect x="225.65" y="230.65" width="4.70" height="4.70" stroke="#a05c22"/>
<rect x="248.65" y="230.85" width="4.70" height="4.70" stroke="#a05c22"/>
<path d="M251.00 227.90L254.00 233.20H248.00Z" stroke="#a05c22"/>
<rect x="252.65" y="223.65" width="4.70" height="4.70" stroke="#a05c22"/>
<circle cx="262.00" cy="228.40" r="3.3" stroke="#a05c22"/>
<rect x="259.65" y="228.25" width="4.70" height="4.70" stroke="#a05c22"/>
<path d="M271.80 234.40L275.30 237.90L271.80 241.40L268.30 237.90Z" stroke="#a05c22"/>
<rect x="273.95" y="230.05" width="4.70" height="4.70" stroke="#a05c22"/>
<path d="M276.30 227.10L279.30 232.40H273.30Z" stroke="#a05c22"/>
<rect x="276.15" y="237.75" width="4.70" height="4.70" stroke="#a05c22"/>
<circle cx="274.00" cy="244.00" r="3.3" stroke="#a05c22"/>
<rect x="271.65" y="243.85" width="4.70" height="4.70" stroke="#a05c22"/>
<path d="M233.00 203.50L236.50 207.00L233.00 210.50L229.50 207.00Z" stroke="#a05c22"/>
<path d="M229.40 213.90L232.90 217.40L229.40 220.90L225.90 217.40Z" stroke="#a05c22"/>
<path d="M233.30 213.80L236.80 217.30L233.30 220.80L229.80 217.30Z" stroke="#a05c22"/>
<rect x="234.45" y="215.15" width="4.70" height="4.70" stroke="#a05c22"/>
<path d="M240.20 213.90L243.70 217.40L240.20 220.90L236.70 217.40Z" stroke="#a05c22"/>
<path d="M244.30 214.00L247.30 219.30H241.30Z" stroke="#a05c22"/>
<path d="M248.40 213.40L251.90 216.90L248.40 220.40L244.90 216.90Z" stroke="#a05c22"/>
<rect x="229.25" y="218.25" width="4.70" height="4.70" stroke="#a05c22"/>
<rect x="232.75" y="217.45" width="4.70" height="4.70" stroke="#a05c22"/>
<path d="M237.90 216.60L240.90 221.90H234.90Z" stroke="#a05c22"/>
<path d="M241.80 216.50L245.30 220.00L241.80 223.50L238.30 220.00Z" stroke="#a05c22"/>
<rect x="244.35" y="217.65" width="4.70" height="4.70" stroke="#a05c22"/>
<rect x="247.65" y="218.15" width="4.70" height="4.70" stroke="#a05c22"/>
<rect x="226.15" y="221.85" width="4.70" height="4.70" stroke="#a05c22"/>
<rect x="231.15" y="221.75" width="4.70" height="4.70" stroke="#a05c22"/>
<path d="M235.80 220.00L239.30 223.50L235.80 227.00L232.30 223.50Z" stroke="#a05c22"/>
<rect x="237.65" y="221.05" width="4.70" height="4.70" stroke="#a05c22"/>
<path d="M244.40 220.30L247.90 223.80L244.40 227.30L240.90 223.80Z" stroke="#a05c22"/>
<path d="M247.70 220.50L251.20 224.00L247.70 227.50L244.20 224.00Z" stroke="#a05c22"/>
<path d="M231.20 223.40L234.20 228.70H228.20Z" stroke="#a05c22"/>
<path d="M235.00 223.30L238.00 228.60H232.00Z" stroke="#a05c22"/>
<path d="M239.20 223.20L242.70 226.70L239.20 230.20L235.70 226.70Z" stroke="#a05c22"/>
<path d="M241.50 224.10L244.50 229.40H238.50Z" stroke="#a05c22"/>
<path d="M245.90 223.80L249.40 227.30L245.90 230.80L242.40 227.30Z" stroke="#a05c22"/>
<path d="M249.20 223.40L252.20 228.70H246.20Z" stroke="#a05c22"/>
<rect x="226.05" y="227.55" width="4.70" height="4.70" stroke="#a05c22"/>
<path d="M232.60 226.90L235.60 232.20H229.60Z" stroke="#a05c22"/>
<path d="M237.00 226.20L240.50 229.70L237.00 233.20L233.50 229.70Z" stroke="#a05c22"/>
<path d="M241.00 226.10L244.50 229.60L241.00 233.10L237.50 229.60Z" stroke="#a05c22"/>
<path d="M243.70 226.70L247.20 230.20L243.70 233.70L240.20 230.20Z" stroke="#a05c22"/>
<path d="M248.70 226.50L252.20 230.00L248.70 233.50L245.20 230.00Z" stroke="#a05c22"/>
<path d="M230.60 229.80L234.10 233.30L230.60 236.80L227.10 233.30Z" stroke="#a05c22"/>
<rect x="232.85" y="231.35" width="4.70" height="4.70" stroke="#a05c22"/>
<path d="M239.30 229.60L242.80 233.10L239.30 236.60L235.80 233.10Z" stroke="#a05c22"/>
<path d="M241.60 230.10L245.10 233.60L241.60 237.10L238.10 233.60Z" stroke="#a05c22"/>
<path d="M245.40 230.70L248.40 236.00H242.40Z" stroke="#a05c22"/>
<path d="M250.40 229.90L253.90 233.40L250.40 236.90L246.90 233.40Z" stroke="#a05c22"/>
<path d="M228.40 234.30L231.40 239.60H225.40Z" stroke="#a05c22"/>
<path d="M233.30 233.10L236.80 236.60L233.30 240.10L229.80 236.60Z" stroke="#a05c22"/>
<rect x="233.65" y="234.75" width="4.70" height="4.70" stroke="#a05c22"/>
<rect x="238.25" y="234.75" width="4.70" height="4.70" stroke="#a05c22"/>
<path d="M243.70 233.10L247.20 236.60L243.70 240.10L240.20 236.60Z" stroke="#a05c22"/>
<path d="M248.60 233.10L252.10 236.60L248.60 240.10L245.10 236.60Z" stroke="#a05c22"/>
<rect x="46.65" y="342.75" width="4.70" height="4.70" stroke="#a05c22"/>
<path d="M49.00 339.80L52.00 345.10H46.00Z" stroke="#a05c22"/>
<circle cx="59.50" cy="336.90" r="3.3" stroke="#a05c22"/>
<rect x="57.15" y="336.75" width="4.70" height="4.70" stroke="#a05c22"/>
<circle cx="63.00" cy="340.40" r="3.3" stroke="#a05c22"/>
<rect x="60.65" y="340.25" width="4.70" height="4.70" stroke="#a05c22"/>
<circle cx="61.30" cy="334.40" r="3.3" stroke="#a05c22"/>
<rect x="58.95" y="334.25" width="4.70" height="4.70" stroke="#a05c22"/>
<path d="M60.60 332.10L64.10 335.60L60.60 339.10L57.10 335.60Z" stroke="#a05c22"/>
<circle cx="61.70" cy="340.60" r="3.3" stroke="#a05c22"/>
<rect x="59.35" y="340.45" width="4.70" height="4.70" stroke="#a05c22"/>
<circle cx="83.90" cy="290.00" r="3.3" stroke="#a05c22"/>
<rect x="81.55" y="289.85" width="4.70" height="4.70" stroke="#a05c22"/>
<circle cx="90.60" cy="297.80" r="3.3" stroke="#a05c22"/>
<rect x="88.25" y="297.65" width="4.70" height="4.70" stroke="#a05c22"/>
<circle cx="95.60" cy="301.10" r="3.3" stroke="#a05c22"/>
<rect x="93.25" y="300.95" width="4.70" height="4.70" stroke="#a05c22"/>
<circle cx="95.60" cy="306.70" r="3.3" stroke="#a05c22"/>
<rect x="93.25" y="306.55" width="4.70" height="4.70" stroke="#a05c22"/>
<rect x="98.25" y="309.45" width="4.70" height="4.70" stroke="#a05c22"/>
<path d="M100.60 306.50L103.60 311.80H97.60Z" stroke="#a05c22"/>
<circle cx="101.70" cy="313.40" r="3.3" stroke="#a05c22"/>
<rect x="99.35" y="313.25" width="4.70" height="4.70" stroke="#a05c22"/>
<path d="M87.30 304.20L90.30 309.50H84.30Z" stroke="#a05c22"/>
<circle cx="83.90" cy="311.10" r="3.3" stroke="#a05c22"/>
<rect x="81.55" y="310.95" width="4.70" height="4.70" stroke="#a05c22"/>
<path d="M90.60 311.60L94.10 315.10L90.60 318.60L87.10 315.10Z" stroke="#a05c22"/>
<rect x="78.25" y="313.95" width="4.70" height="4.70" stroke="#a05c22"/>
<path d="M80.60 311.00L83.60 316.30H77.60Z" stroke="#a05c22"/>
<path d="M89.50 317.20L93.00 320.70L89.50 324.20L86.00 320.70Z" stroke="#a05c22"/>
<rect x="101.65" y="320.65" width="4.70" height="4.70" stroke="#a05c22"/>
<path d="M104.00 317.70L107.00 323.00H101.00Z" stroke="#a05c22"/>
<rect x="107.15" y="318.35" width="4.70" height="4.70" stroke="#a05c22"/>
<path d="M109.50 315.40L112.50 320.70H106.50Z" stroke="#a05c22"/>
<rect x="106.05" y="315.95" width="4.70" height="4.70" stroke="#a05c22"/>
<path d="M75.00 313.20L78.50 316.70L75.00 320.20L71.50 316.70Z" stroke="#a05c22"/>
<path d="M72.80 321.00L76.30 324.50L72.80 328.00L69.30 324.50Z" stroke="#a05c22"/>
<circle cx="81.70" cy="312.70" r="3.3" stroke="#a05c22"/>
<rect x="79.35" y="312.55" width="4.70" height="4.70" stroke="#a05c22"/>
<circle cx="86.20" cy="311.60" r="3.3" stroke="#a05c22"/>
<rect x="83.85" y="311.45" width="4.70" height="4.70" stroke="#a05c22"/>
<path d="M85.10 319.90L88.60 323.40L85.10 326.90L81.60 323.40Z" stroke="#a05c22"/>
<path d="M82.90 325.50L86.40 329.00L82.90 332.50L79.40 329.00Z" stroke="#a05c22"/>
<circle cx="88.40" cy="319.40" r="3.3" stroke="#a05c22"/>
<rect x="86.05" y="319.25" width="4.70" height="4.70" stroke="#a05c22"/>
<circle cx="90.70" cy="316.10" r="3.3" stroke="#a05c22"/>
<rect x="88.35" y="315.95" width="4.70" height="4.70" stroke="#a05c22"/>
<circle cx="74.50" cy="334.40" r="3.3" stroke="#a05c22"/>
<rect x="72.15" y="334.25" width="4.70" height="4.70" stroke="#a05c22"/>
<rect x="69.95" y="339.45" width="4.70" height="4.70" stroke="#a05c22"/>
<path d="M72.30 336.50L75.30 341.80H69.30Z" stroke="#a05c22"/>
<circle cx="82.30" cy="340.00" r="3.3" stroke="#a05c22"/>
<rect x="79.95" y="339.85" width="4.70" height="4.70" stroke="#a05c22"/>
<rect x="72.15" y="326.05" width="4.70" height="4.70" stroke="#a05c22"/>
<path d="M74.50 323.10L77.50 328.40H71.50Z" stroke="#a05c22"/>
<circle cx="73.90" cy="355.60" r="3.3" stroke="#a05c22"/>
<rect x="71.55" y="355.45" width="4.70" height="4.70" stroke="#a05c22"/>
<rect x="93.35" y="341.65" width="4.70" height="4.70" stroke="#a05c22"/>
<path d="M95.70 338.70L98.70 344.00H92.70Z" stroke="#a05c22"/>
<rect x="95.55" y="353.95" width="4.70" height="4.70" stroke="#a05c22"/>
<path d="M97.90 351.00L100.90 356.30H94.90Z" stroke="#a05c22"/>
<rect x="88.25" y="357.25" width="4.70" height="4.70" stroke="#a05c22"/>
<path d="M90.60 354.30L93.60 359.60H87.60Z" stroke="#a05c22"/>
<rect x="88.35" y="345.65" width="4.70" height="4.70" stroke="#a05c22"/>
<path d="M90.70 342.70L93.70 348.00H87.70Z" stroke="#a05c22"/>
<rect x="100.45" y="321.65" width="4.70" height="4.70" stroke="#a05c22"/>
<path d="M102.80 318.70L105.80 324.00H99.80Z" stroke="#a05c22"/>
<rect x="100.45" y="330.55" width="4.70" height="4.70" stroke="#a05c22"/>
<path d="M102.80 327.60L105.80 332.90H99.80Z" stroke="#a05c22"/>
<circle cx="87.20" cy="317.70" r="3.3" stroke="#a05c22"/>
<rect x="84.85" y="317.55" width="4.70" height="4.70" stroke="#a05c22"/>
<circle cx="87.20" cy="323.30" r="3.3" stroke="#a05c22"/>
<rect x="84.85" y="323.15" width="4.70" height="4.70" stroke="#a05c22"/>
<path d="M96.10 339.80L99.10 345.10H93.10Z" stroke="#a05c22"/>
<path d="M91.70 345.30L94.70 350.60H88.70Z" stroke="#a05c22"/>
<path d="M100.60 341.60L104.10 345.10L100.60 348.60L97.10 345.10Z" stroke="#a05c22"/>
<circle cx="106.20" cy="343.40" r="3.3" stroke="#a05c22"/>
<rect x="103.85" y="343.25" width="4.70" height="4.70" stroke="#a05c22"/>
<circle cx="115.10" cy="338.90" r="3.3" stroke="#a05c22"/>
<rect x="112.75" y="338.75" width="4.70" height="4.70" stroke="#a05c22"/>
<path d="M118.40 334.90L121.90 338.40L118.40 341.90L114.90 338.40Z" stroke="#a05c22"/>
<path d="M111.70 342.70L115.20 346.20L111.70 349.70L108.20 346.20Z" stroke="#a05c22"/>
<path d="M117.30 347.20L120.80 350.70L117.30 354.20L113.80 350.70Z" stroke="#a05c22"/>
<rect x="97.15" y="350.55" width="4.70" height="4.70" stroke="#a05c22"/>
<path d="M107.30 348.30L110.80 351.80L107.30 355.30L103.80 351.80Z" stroke="#a05c22"/>
<rect x="121.65" y="346.15" width="4.70" height="4.70" stroke="#a05c22"/>
<path d="M124.00 343.20L127.00 348.50H121.00Z" stroke="#a05c22"/>
<rect x="99.05" y="309.25" width="4.70" height="4.70" stroke="#a05c22"/>
<path d="M101.40 306.30L104.40 311.60H98.40Z" stroke="#a05c22"/>
<rect x="101.15" y="321.15" width="4.70" height="4.70" stroke="#a05c22"/>
<path d="M103.50 318.20L106.50 323.50H100.50Z" stroke="#a05c22"/>
<rect x="106.65" y="319.75" width="4.70" height="4.70" stroke="#a05c22"/>
<path d="M109.00 316.80L112.00 322.10H106.00Z" stroke="#a05c22"/>
<rect x="124.85" y="326.75" width="4.70" height="4.70" stroke="#a05c22"/>
<path d="M127.20 323.80L130.20 329.10H124.20Z" stroke="#a05c22"/>
<path d="M127.20 329.20L130.70 332.70L127.20 336.20L123.70 332.70Z" stroke="#a05c22"/>
<path d="M102.80 328.50L106.30 332.00L102.80 335.50L99.30 332.00Z" stroke="#a05c22"/>
<circle cx="116.00" cy="339.80" r="3.3" stroke="#a05c22"/>
<rect x="113.65" y="339.65" width="4.70" height="4.70" stroke="#a05c22"/>
<circle cx="114.20" cy="338.60" r="3.3" stroke="#a05c22"/>
<rect x="111.85" y="338.45" width="4.70" height="4.70" stroke="#a05c22"/>
<path d="M117.00 338.50L120.50 342.00L117.00 345.50L113.50 342.00Z" stroke="#a05c22"/>
<rect x="121.55" y="344.95" width="4.70" height="4.70" stroke="#a05c22"/>
<path d="M123.90 342.00L126.90 347.30H120.90Z" stroke="#a05c22"/>
<rect x="133.45" y="339.85" width="4.70" height="4.70" stroke="#a05c22"/>
<path d="M135.80 336.90L138.80 342.20H132.80Z" stroke="#a05c22"/>
<path d="M135.80 344.00L139.30 347.50L135.80 351.00L132.30 347.50Z" stroke="#a05c22"/>
<path d="M143.40 344.40L146.40 349.70H140.40Z" stroke="#a05c22"/>
<path d="M143.40 344.00L146.90 347.50L143.40 351.00L139.90 347.50Z" stroke="#a05c22"/>
<rect x="133.85" y="343.45" width="4.70" height="4.70" stroke="#a05c22"/>
<path d="M136.20 340.50L139.20 345.80H133.20Z" stroke="#a05c22"/>
<path d="M112.80 348.20L116.30 351.70L112.80 355.20L109.30 351.70Z" stroke="#a05c22"/>
<path d="M118.40 352.40L121.90 355.90L118.40 359.40L114.90 355.90Z" stroke="#a05c22"/>
<rect x="121.55" y="353.35" width="4.70" height="4.70" stroke="#a05c22"/>
<path d="M123.90 350.40L126.90 355.70H120.90Z" stroke="#a05c22"/>
<path d="M129.50 353.80L133.00 357.30L129.50 360.80L126.00 357.30Z" stroke="#a05c22"/>
<path d="M135.10 352.40L138.60 355.90L135.10 359.40L131.60 355.90Z" stroke="#a05c22"/>
<path d="M137.90 350.00L140.90 355.30H134.90Z" stroke="#a05c22"/>
<path d="M143.40 355.20L146.90 358.70L143.40 362.20L139.90 358.70Z" stroke="#a05c22"/>
<rect x="147.35" y="359.15" width="4.70" height="4.70" stroke="#a05c22"/>
<path d="M119.70 359.40L123.20 362.90L119.70 366.40L116.20 362.90Z" stroke="#a05c22"/>
<circle cx="125.30" cy="360.90" r="3.3" stroke="#a05c22"/>
<rect x="122.95" y="360.75" width="4.70" height="4.70" stroke="#a05c22"/>
<path d="M130.90 360.70L134.40 364.20L130.90 367.70L127.40 364.20Z" stroke="#a05c22"/>
<rect x="117.35" y="366.05" width="4.70" height="4.70" stroke="#a05c22"/>
<rect x="122.95" y="368.85" width="4.70" height="4.70" stroke="#a05c22"/>
<path d="M125.30 367.70L128.80 371.20L125.30 374.70L121.80 371.20Z" stroke="#a05c22"/>
<circle cx="143.40" cy="373.40" r="3.3" stroke="#a05c22"/>
<rect x="141.05" y="373.25" width="4.70" height="4.70" stroke="#a05c22"/>
<path d="M142.00 362.10L145.50 365.60L142.00 369.10L138.50 365.60Z" stroke="#a05c22"/>
<path d="M95.60 340.30L98.60 345.60H92.60Z" stroke="#a05c22"/>
<rect x="88.75" y="347.75" width="4.70" height="4.70" stroke="#a05c22"/>
<path d="M91.10 344.80L94.10 350.10H88.10Z" stroke="#a05c22"/>
<rect x="87.65" y="358.95" width="4.70" height="4.70" stroke="#a05c22"/>
<path d="M90.00 356.00L93.00 361.30H87.00Z" stroke="#a05c22"/>
<rect x="96.55" y="351.15" width="4.70" height="4.70" stroke="#a05c22"/>
<rect x="96.55" y="355.15" width="4.70" height="4.70" stroke="#a05c22"/>
<circle cx="98.90" cy="360.40" r="3.3" stroke="#a05c22"/>
<rect x="96.55" y="360.25" width="4.70" height="4.70" stroke="#a05c22"/>
<path d="M98.90 362.70L102.40 366.20L98.90 369.70L95.40 366.20Z" stroke="#a05c22"/>
<circle cx="103.90" cy="344.40" r="3.3" stroke="#a05c22"/>
<rect x="101.55" y="344.25" width="4.70" height="4.70" stroke="#a05c22"/>
<path d="M106.00 345.50L109.50 349.00L106.00 352.50L102.50 349.00Z" stroke="#a05c22"/>
<rect x="106.05" y="355.05" width="4.70" height="4.70" stroke="#a05c22"/>
<path d="M108.40 352.10L111.40 357.40H105.40Z" stroke="#a05c22"/>
<circle cx="114.00" cy="353.30" r="3.3" stroke="#a05c22"/>
<rect x="111.65" y="353.15" width="4.70" height="4.70" stroke="#a05c22"/>
<circle cx="115.10" cy="338.90" r="3.3" stroke="#a05c22"/>
<rect x="112.75" y="338.75" width="4.70" height="4.70" stroke="#a05c22"/>
<path d="M112.00 333.50L115.50 337.00L112.00 340.50L108.50 337.00Z" stroke="#a05c22"/>
<rect x="116.05" y="359.45" width="4.70" height="4.70" stroke="#a05c22"/>
<path d="M118.40 356.50L121.40 361.80H115.40Z" stroke="#a05c22"/>
<rect x="117.15" y="366.05" width="4.70" height="4.70" stroke="#a05c22"/>
<circle cx="122.90" cy="355.60" r="3.3" stroke="#a05c22"/>
<rect x="120.55" y="355.45" width="4.70" height="4.70" stroke="#a05c22"/>
<path d="M122.90 360.50L126.40 364.00L122.90 367.50L119.40 364.00Z" stroke="#a05c22"/>
<path d="M107.30 343.80L110.80 347.30L107.30 350.80L103.80 347.30Z" stroke="#a05c22"/>
<rect x="100.45" y="347.15" width="4.70" height="4.70" stroke="#a05c22"/>
<path d="M110.00 347.50L113.50 351.00L110.00 354.50L106.50 351.00Z" stroke="#a05c22"/>
<circle cx="256.80" cy="290.00" r="3.3" stroke="#a05c22"/>
<rect x="254.45" y="289.85" width="4.70" height="4.70" stroke="#a05c22"/>
<rect x="255.95" y="292.15" width="4.70" height="4.70" stroke="#a05c22"/>
<path d="M258.30 289.20L261.30 294.50H255.30Z" stroke="#a05c22"/>
<circle cx="247.30" cy="306.10" r="3.3" stroke="#a05c22"/>
<rect x="244.95" y="305.95" width="4.70" height="4.70" stroke="#a05c22"/>
<circle cx="240.00" cy="312.80" r="3.3" stroke="#a05c22"/>
<rect x="237.65" y="312.65" width="4.70" height="4.70" stroke="#a05c22"/>
<rect x="237.65" y="314.95" width="4.70" height="4.70" stroke="#a05c22"/>
<circle cx="250.10" cy="315.00" r="3.3" stroke="#a05c22"/>
<rect x="247.75" y="314.85" width="4.70" height="4.70" stroke="#a05c22"/>
<rect x="259.45" y="301.65" width="4.70" height="4.70" stroke="#a05c22"/>
<path d="M261.80 298.70L264.80 304.00H258.80Z" stroke="#a05c22"/>
<rect x="260.45" y="301.15" width="4.70" height="4.70" stroke="#a05c22"/>
<path d="M262.80 298.20L265.80 303.50H259.80Z" stroke="#a05c22"/>
<circle cx="260.70" cy="313.40" r="3.3" stroke="#a05c22"/>
<rect x="258.35" y="313.25" width="4.70" height="4.70" stroke="#a05c22"/>
<rect x="274.35" y="297.25" width="4.70" height="4.70" stroke="#a05c22"/>
<path d="M276.70 294.30L279.70 299.60H273.70Z" stroke="#a05c22"/>
<rect x="272.75" y="306.65" width="4.70" height="4.70" stroke="#a05c22"/>
<path d="M275.10 303.70L278.10 309.00H272.10Z" stroke="#a05c22"/>
<path d="M269.50 307.70L273.00 311.20L269.50 314.70L266.00 311.20Z" stroke="#a05c22"/>
<rect x="283.25" y="314.45" width="4.70" height="4.70" stroke="#a05c22"/>
<path d="M285.60 311.50L288.60 316.80H282.60Z" stroke="#a05c22"/>
<circle cx="259.50" cy="312.80" r="3.3" stroke="#a05c22"/>
<rect x="257.15" y="312.65" width="4.70" height="4.70" stroke="#a05c22"/>
<circle cx="266.10" cy="313.90" r="3.3" stroke="#a05c22"/>
<rect x="263.75" y="313.75" width="4.70" height="4.70" stroke="#a05c22"/>
<path d="M277.30 315.50L280.80 319.00L277.30 322.50L273.80 319.00Z" stroke="#a05c22"/>
<circle cx="261.70" cy="318.40" r="3.3" stroke="#a05c22"/>
<rect x="259.35" y="318.25" width="4.70" height="4.70" stroke="#a05c22"/>
<rect x="263.75" y="322.25" width="4.70" height="4.70" stroke="#a05c22"/>
<path d="M266.10 319.30L269.10 324.60H263.10Z" stroke="#a05c22"/>
<circle cx="276.20" cy="322.80" r="3.3" stroke="#a05c22"/>
<rect x="273.85" y="322.65" width="4.70" height="4.70" stroke="#a05c22"/>
<path d="M261.70 323.30L265.20 326.80L261.70 330.30L258.20 326.80Z" stroke="#a05c22"/>
<rect x="267.15" y="325.65" width="4.70" height="4.70" stroke="#a05c22"/>
<path d="M269.50 322.70L272.50 328.00H266.50Z" stroke="#a05c22"/>
<rect x="257.65" y="306.85" width="4.70" height="4.70" stroke="#a05c22"/>
<path d="M260.00 303.90L263.00 309.20H257.00Z" stroke="#a05c22"/>
<circle cx="262.00" cy="296.40" r="3.3" stroke="#a05c22"/>
<rect x="259.65" y="296.25" width="4.70" height="4.70" stroke="#a05c22"/>
<circle cx="225.60" cy="323.90" r="3.3" stroke="#a05c22"/>
<rect x="223.25" y="323.75" width="4.70" height="4.70" stroke="#a05c22"/>
<rect x="237.15" y="317.65" width="4.70" height="4.70" stroke="#a05c22"/>
<path d="M227.20 319.40L230.70 322.90L227.20 326.40L223.70 322.90Z" stroke="#a05c22"/>
<rect x="222.65" y="333.35" width="4.70" height="4.70" stroke="#a05c22"/>
<path d="M225.00 330.40L228.00 335.70H222.00Z" stroke="#a05c22"/>
<rect x="228.25" y="331.05" width="4.70" height="4.70" stroke="#a05c22"/>
<circle cx="236.20" cy="331.70" r="3.3" stroke="#a05c22"/>
<rect x="233.85" y="331.55" width="4.70" height="4.70" stroke="#a05c22"/>
<path d="M241.80 332.10L245.30 335.60L241.80 339.10L238.30 335.60Z" stroke="#a05c22"/>
<rect x="222.65" y="338.85" width="4.70" height="4.70" stroke="#a05c22"/>
<rect x="229.35" y="338.85" width="4.70" height="4.70" stroke="#a05c22"/>
<path d="M231.70 335.90L234.70 341.20H228.70Z" stroke="#a05c22"/>
<circle cx="237.30" cy="339.40" r="3.3" stroke="#a05c22"/>
<rect x="234.95" y="339.25" width="4.70" height="4.70" stroke="#a05c22"/>
<rect x="240.55" y="339.95" width="4.70" height="4.70" stroke="#a05c22"/>
<path d="M225.00 342.10L228.50 345.60L225.00 349.10L221.50 345.60Z" stroke="#a05c22"/>
<rect x="231.65" y="345.55" width="4.70" height="4.70" stroke="#a05c22"/>
<path d="M234.00 342.60L237.00 347.90H231.00Z" stroke="#a05c22"/>
<rect x="237.15" y="345.55" width="4.70" height="4.70" stroke="#a05c22"/>
<circle cx="228.00" cy="336.40" r="3.3" stroke="#a05c22"/>
<rect x="225.65" y="336.25" width="4.70" height="4.70" stroke="#a05c22"/>
<circle cx="234.00" cy="342.40" r="3.3" stroke="#a05c22"/>
<rect x="231.65" y="342.25" width="4.70" height="4.70" stroke="#a05c22"/>
<circle cx="222.00" cy="337.40" r="3.3" stroke="#a05c22"/>
<rect x="219.65" y="337.25" width="4.70" height="4.70" stroke="#a05c22"/>
<rect x="242.65" y="327.25" width="4.70" height="4.70" stroke="#a05c22"/>
<path d="M245.00 324.30L248.00 329.60H242.00Z" stroke="#a05c22"/>
<rect x="249.95" y="331.15" width="4.70" height="4.70" stroke="#a05c22"/>
<path d="M252.30 328.20L255.30 333.50H249.30Z" stroke="#a05c22"/>
<path d="M266.70 323.20L270.20 326.70L266.70 330.20L263.20 326.70Z" stroke="#a05c22"/>
<rect x="271.05" y="323.35" width="4.70" height="4.70" stroke="#a05c22"/>
<path d="M273.40 320.40L276.40 325.70H270.40Z" stroke="#a05c22"/>
<circle cx="242.20" cy="337.20" r="3.3" stroke="#a05c22"/>
<rect x="239.85" y="337.05" width="4.70" height="4.70" stroke="#a05c22"/>
<path d="M247.80 335.50L251.30 339.00L247.80 342.50L244.30 339.00Z" stroke="#a05c22"/>
<rect x="257.65" y="347.85" width="4.70" height="4.70" stroke="#a05c22"/>
<path d="M260.00 344.90L263.00 350.20H257.00Z" stroke="#a05c22"/>
<circle cx="265.60" cy="341.70" r="3.3" stroke="#a05c22"/>
<rect x="263.25" y="341.55" width="4.70" height="4.70" stroke="#a05c22"/>
<rect x="267.65" y="340.05" width="4.70" height="4.70" stroke="#a05c22"/>
<path d="M270.00 337.10L273.00 342.40H267.00Z" stroke="#a05c22"/>
<circle cx="274.50" cy="343.90" r="3.3" stroke="#a05c22"/>
<rect x="272.15" y="343.75" width="4.70" height="4.70" stroke="#a05c22"/>
<path d="M248.90 344.40L252.40 347.90L248.90 351.40L245.40 347.90Z" stroke="#a05c22"/>
<rect x="240.95" y="351.15" width="4.70" height="4.70" stroke="#a05c22"/>
<path d="M243.30 348.20L246.30 353.50H240.30Z" stroke="#a05c22"/>
<circle cx="245.60" cy="355.10" r="3.3" stroke="#a05c22"/>
<rect x="243.25" y="354.95" width="4.70" height="4.70" stroke="#a05c22"/>
<path d="M273.40 347.70L276.90 351.20L273.40 354.70L269.90 351.20Z" stroke="#a05c22"/>
<rect x="275.55" y="345.55" width="4.70" height="4.70" stroke="#a05c22"/>
<path d="M277.90 342.60L280.90 347.90H274.90Z" stroke="#a05c22"/>
<circle cx="285.30" cy="315.00" r="3.3" stroke="#a05c22"/>
<rect x="282.95" y="314.85" width="4.70" height="4.70" stroke="#a05c22"/>
<circle cx="294.40" cy="328.90" r="3.3" stroke="#a05c22"/>
<rect x="292.05" y="328.75" width="4.70" height="4.70" stroke="#a05c22"/>
<circle cx="281.10" cy="344.20" r="3.3" stroke="#a05c22"/>
<rect x="278.75" y="344.05" width="4.70" height="4.70" stroke="#a05c22"/>
<path d="M275.60 338.50L279.10 342.00L275.60 345.50L272.10 342.00Z" stroke="#a05c22"/>
<rect x="281.55" y="338.25" width="4.70" height="4.70" stroke="#a05c22"/>
<rect x="276.05" y="349.25" width="4.70" height="4.70" stroke="#a05c22"/>
<path d="M278.40 346.30L281.40 351.60H275.40Z" stroke="#a05c22"/>
<circle cx="277.00" cy="358.10" r="3.3" stroke="#a05c22"/>
<rect x="274.65" y="357.95" width="4.70" height="4.70" stroke="#a05c22"/>
<path d="M265.60 339.30L269.10 342.80L265.60 346.30L262.10 342.80Z" stroke="#a05c22"/>
<rect x="268.85" y="340.45" width="4.70" height="4.70" stroke="#a05c22"/>
<rect x="273.25" y="344.95" width="4.70" height="4.70" stroke="#a05c22"/>
<path d="M275.60 342.00L278.60 347.30H272.60Z" stroke="#a05c22"/>
<circle cx="281.20" cy="345.50" r="3.3" stroke="#a05c22"/>
<rect x="278.85" y="345.35" width="4.70" height="4.70" stroke="#a05c22"/>
<path d="M284.50 339.30L288.00 342.80L284.50 346.30L281.00 342.80Z" stroke="#a05c22"/>
<rect x="269.95" y="348.25" width="4.70" height="4.70" stroke="#a05c22"/>
<rect x="277.75" y="349.45" width="4.70" height="4.70" stroke="#a05c22"/>
<path d="M280.10 346.50L283.10 351.80H277.10Z" stroke="#a05c22"/>
<rect x="273.25" y="360.55" width="4.70" height="4.70" stroke="#a05c22"/>
<path d="M275.60 357.60L278.60 362.90H272.60Z" stroke="#a05c22"/>
<circle cx="275.60" cy="364.50" r="3.3" stroke="#a05c22"/>
<rect x="273.25" y="364.35" width="4.70" height="4.70" stroke="#a05c22"/>
<path d="M279.00 356.00L282.50 359.50L279.00 363.00L275.50 359.50Z" stroke="#a05c22"/>
<rect x="248.75" y="347.25" width="4.70" height="4.70" stroke="#a05c22"/>
<path d="M251.10 344.30L254.10 349.60H248.10Z" stroke="#a05c22"/>
<circle cx="252.20" cy="360.00" r="3.3" stroke="#a05c22"/>
<rect x="249.85" y="359.85" width="4.70" height="4.70" stroke="#a05c22"/>
<path d="M235.90 350.70L239.40 354.20L235.90 357.70L232.40 354.20Z" stroke="#a05c22"/>
<rect x="240.55" y="354.65" width="4.70" height="4.70" stroke="#a05c22"/>
<rect x="247.45" y="358.55" width="4.70" height="4.70" stroke="#a05c22"/>
<path d="M249.80 355.60L252.80 360.90H246.80Z" stroke="#a05c22"/>
<circle cx="238.70" cy="361.90" r="3.3" stroke="#a05c22"/>
<rect x="236.35" y="361.75" width="4.70" height="4.70" stroke="#a05c22"/>
<path d="M237.30 364.60L240.80 368.10L237.30 371.60L233.80 368.10Z" stroke="#a05c22"/>
<rect x="244.65" y="368.35" width="4.70" height="4.70" stroke="#a05c22"/>
<path d="M247.00 365.40L250.00 370.70H244.00Z" stroke="#a05c22"/>
<circle cx="233.00" cy="357.40" r="3.3" stroke="#a05c22"/>
<rect x="230.65" y="357.25" width="4.70" height="4.70" stroke="#a05c22"/>
<circle cx="244.00" cy="363.40" r="3.3" stroke="#a05c22"/>
<rect x="241.65" y="363.25" width="4.70" height="4.70" stroke="#a05c22"/>
<circle cx="230.00" cy="365.40" r="3.3" stroke="#a05c22"/>
<rect x="227.65" y="365.25" width="4.70" height="4.70" stroke="#a05c22"/>
<rect x="231.45" y="373.85" width="4.70" height="4.70" stroke="#a05c22"/>
<path d="M233.80 370.90L236.80 376.20H230.80Z" stroke="#a05c22"/>
<path d="M230.70 346.40L234.20 349.90L230.70 353.40L227.20 349.90Z" stroke="#a05c22"/>
<path d="M233.10 346.50L236.60 350.00L233.10 353.50L229.60 350.00Z" stroke="#a05c22"/>
<path d="M237.70 347.00L241.20 350.50L237.70 354.00L234.20 350.50Z" stroke="#a05c22"/>
<rect x="238.35" y="347.55" width="4.70" height="4.70" stroke="#a05c22"/>
<path d="M244.80 346.60L248.30 350.10L244.80 353.60L241.30 350.10Z" stroke="#a05c22"/>
<path d="M249.50 346.00L253.00 349.50L249.50 353.00L246.00 349.50Z" stroke="#a05c22"/>
<rect x="229.75" y="351.05" width="4.70" height="4.70" stroke="#a05c22"/>
<path d="M235.80 349.70L239.30 353.20L235.80 356.70L232.30 353.20Z" stroke="#a05c22"/>
<rect x="236.45" y="351.35" width="4.70" height="4.70" stroke="#a05c22"/>
<path d="M243.20 349.80L246.70 353.30L243.20 356.80L239.70 353.30Z" stroke="#a05c22"/>
<path d="M247.20 350.00L250.70 353.50L247.20 357.00L243.70 353.50Z" stroke="#a05c22"/>
<path d="M251.00 350.00L254.50 353.50L251.00 357.00L247.50 353.50Z" stroke="#a05c22"/>
<path d="M229.40 353.40L232.90 356.90L229.40 360.40L225.90 356.90Z" stroke="#a05c22"/>
<path d="M234.00 353.10L237.50 356.60L234.00 360.10L230.50 356.60Z" stroke="#a05c22"/>
<path d="M238.00 353.50L241.00 358.80H235.00Z" stroke="#a05c22"/>
<path d="M241.20 353.20L244.20 358.50H238.20Z" stroke="#a05c22"/>
<rect x="243.15" y="353.95" width="4.70" height="4.70" stroke="#a05c22"/>
<path d="M249.00 353.60L252.50 357.10L249.00 360.60L245.50 357.10Z" stroke="#a05c22"/>
<path d="M231.60 357.40L234.60 362.70H228.60Z" stroke="#a05c22"/>
<path d="M235.70 356.00L239.20 359.50L235.70 363.00L232.20 359.50Z" stroke="#a05c22"/>
<path d="M238.90 356.40L242.40 359.90L238.90 363.40L235.40 359.90Z" stroke="#a05c22"/>
<path d="M244.00 355.90L247.50 359.40L244.00 362.90L240.50 359.40Z" stroke="#a05c22"/>
<path d="M246.80 356.20L250.30 359.70L246.80 363.20L243.30 359.70Z" stroke="#a05c22"/>
<path d="M251.00 356.70L254.00 362.00H248.00Z" stroke="#a05c22"/>
<path d="M230.70 359.70L234.20 363.20L230.70 366.70L227.20 363.20Z" stroke="#a05c22"/>
<path d="M233.10 359.90L236.60 363.40L233.10 366.90L229.60 363.40Z" stroke="#a05c22"/>
<path d="M237.30 360.00L240.30 365.30H234.30Z" stroke="#a05c22"/>
<path d="M240.60 359.70L244.10 363.20L240.60 366.70L237.10 363.20Z" stroke="#a05c22"/>
<rect x="243.05" y="360.85" width="4.70" height="4.70" stroke="#a05c22"/>
<rect x="247.05" y="360.45" width="4.70" height="4.70" stroke="#a05c22"/>
<rect x="229.35" y="364.65" width="4.70" height="4.70" stroke="#a05c22"/>
<path d="M235.00 363.30L238.00 368.60H232.00Z" stroke="#a05c22"/>
<path d="M240.10 363.40L243.60 366.90L240.10 370.40L236.60 366.90Z" stroke="#a05c22"/>
<path d="M243.60 363.60L247.10 367.10L243.60 370.60L240.10 367.10Z" stroke="#a05c22"/>
<path d="M247.80 363.00L250.80 368.30H244.80Z" stroke="#a05c22"/>
<rect x="247.95" y="364.35" width="4.70" height="4.70" stroke="#a05c22"/>
<path d="M223.00 329.60L226.50 333.10L223.00 336.60L219.50 333.10Z" stroke="#a05c22"/>
<path d="M227.20 329.10L230.70 332.60L227.20 336.10L223.70 332.60Z" stroke="#a05c22"/>
<path d="M232.20 329.30L235.70 332.80L232.20 336.30L228.70 332.80Z" stroke="#a05c22"/>
<rect x="234.45" y="330.65" width="4.70" height="4.70" stroke="#a05c22"/>
<path d="M240.90 329.90L244.40 333.40L240.90 336.90L237.40 333.40Z" stroke="#a05c22"/>
<path d="M225.10 333.60L228.10 338.90H222.10Z" stroke="#a05c22"/>
<path d="M230.00 333.20L233.00 338.50H227.00Z" stroke="#a05c22"/>
<path d="M235.00 333.20L238.50 336.70L235.00 340.20L231.50 336.70Z" stroke="#a05c22"/>
<path d="M238.50 332.80L242.00 336.30L238.50 339.80L235.00 336.30Z" stroke="#a05c22"/>
<path d="M243.40 333.30L246.90 336.80L243.40 340.30L239.90 336.80Z" stroke="#a05c22"/>
<path d="M223.20 336.60L226.70 340.10L223.20 343.60L219.70 340.10Z" stroke="#a05c22"/>
<rect x="225.35" y="337.85" width="4.70" height="4.70" stroke="#a05c22"/>
<path d="M232.70 337.20L236.20 340.70L232.70 344.20L229.20 340.70Z" stroke="#a05c22"/>
<path d="M235.90 337.90L238.90 343.20H232.90Z" stroke="#a05c22"/>
<path d="M241.00 337.30L244.00 342.60H238.00Z" stroke="#a05c22"/>
<rect x="222.25" y="341.85" width="4.70" height="4.70" stroke="#a05c22"/>
<path d="M229.70 341.10L233.20 344.60L229.70 348.10L226.20 344.60Z" stroke="#a05c22"/>
<path d="M233.80 341.40L237.30 344.90L233.80 348.40L230.30 344.90Z" stroke="#a05c22"/>
<path d="M238.20 341.00L241.70 344.50L238.20 348.00L234.70 344.50Z" stroke="#a05c22"/>
<path d="M243.70 340.70L247.20 344.20L243.70 347.70L240.20 344.20Z" stroke="#a05c22"/>
<circle cx="37.00" cy="93.90" r="3.3" stroke="#43435c"/>
<rect x="34.65" y="93.75" width="4.70" height="4.70" stroke="#43435c"/>
<circle cx="38.30" cy="97.90" r="3.3" stroke="#43435c"/>
<rect x="35.95" y="97.75" width="4.70" height="4.70" stroke="#43435c"/>
<path d="M36.00 93.50L39.50 97.00L36.00 100.50L32.50 97.00Z" stroke="#43435c"/>
<rect x="38.35" y="105.05" width="4.70" height="4.70" stroke="#43435c"/>
<path d="M40.70 102.10L43.70 107.40H37.70Z" stroke="#43435c"/>
<rect x="41.15" y="107.35" width="4.70" height="4.70" stroke="#43435c"/>
<path d="M43.50 104.40L46.50 109.70H40.50Z" stroke="#43435c"/>
<rect x="35.55" y="114.55" width="4.70" height="4.70" stroke="#43435c"/>
<path d="M37.90 111.60L40.90 116.90H34.90Z" stroke="#43435c"/>
<circle cx="66.10" cy="96.10" r="3.3" stroke="#43435c"/>
<rect x="63.75" y="95.95" width="4.70" height="4.70" stroke="#43435c"/>
<rect x="210.45" y="94.45" width="4.70" height="4.70" stroke="#43435c"/>
<path d="M212.80 91.50L215.80 96.80H209.80Z" stroke="#43435c"/>
<rect x="210.65" y="96.15" width="4.70" height="4.70" stroke="#43435c"/>
<rect x="232.15" y="102.85" width="4.70" height="4.70" stroke="#43435c"/>
<path d="M234.50 99.90L237.50 105.20H231.50Z" stroke="#43435c"/>
<rect x="231.65" y="104.65" width="4.70" height="4.70" stroke="#43435c"/>
<rect x="239.35" y="106.65" width="4.70" height="4.70" stroke="#43435c"/>
<path d="M241.70 103.70L244.70 109.00H238.70Z" stroke="#43435c"/>
<rect x="252.15" y="114.45" width="4.70" height="4.70" stroke="#43435c"/>
<path d="M254.50 111.50L257.50 116.80H251.50Z" stroke="#43435c"/>
<circle cx="309.20" cy="96.10" r="3.3" stroke="#43435c"/>
<rect x="306.85" y="95.95" width="4.70" height="4.70" stroke="#43435c"/>
<path d="M237.00 96.50L240.50 100.00L237.00 103.50L233.50 100.00Z" stroke="#43435c"/>
<path d="M36.80 211.10L40.30 214.60L36.80 218.10L33.30 214.60Z" stroke="#43435c"/>
<rect x="34.45" y="216.85" width="4.70" height="4.70" stroke="#43435c"/>
<path d="M36.80 213.90L39.80 219.20H33.80Z" stroke="#43435c"/>
<path d="M36.80 218.80L40.30 222.30L36.80 225.80L33.30 222.30Z" stroke="#43435c"/>
<path d="M37.40 223.00L40.90 226.50L37.40 230.00L33.90 226.50Z" stroke="#43435c"/>
<path d="M37.50 233.50L41.00 237.00L37.50 240.50L34.00 237.00Z" stroke="#43435c"/>
<path d="M39.00 237.00L42.50 240.50L39.00 244.00L35.50 240.50Z" stroke="#43435c"/>
<path d="M41.00 240.50L44.50 244.00L41.00 247.50L37.50 244.00Z" stroke="#43435c"/>
<path d="M43.00 244.00L46.50 247.50L43.00 251.00L39.50 247.50Z" stroke="#43435c"/>
<rect x="37.65" y="239.65" width="4.70" height="4.70" stroke="#43435c"/>
<path d="M66.90 212.10L70.40 215.60L66.90 219.10L63.40 215.60Z" stroke="#43435c"/>
<rect x="210.45" y="216.15" width="4.70" height="4.70" stroke="#43435c"/>
<path d="M212.80 213.20L215.80 218.50H209.80Z" stroke="#43435c"/>
<circle cx="309.00" cy="214.40" r="3.3" stroke="#43435c"/>
<rect x="306.65" y="214.25" width="4.70" height="4.70" stroke="#43435c"/>
<path d="M243.30 219.90L246.80 223.40L243.30 226.90L239.80 223.40Z" stroke="#43435c"/>
<circle cx="235.00" cy="243.00" r="3.3" stroke="#43435c"/>
<rect x="232.65" y="242.85" width="4.70" height="4.70" stroke="#43435c"/>
<circle cx="241.30" cy="245.70" r="3.3" stroke="#43435c"/>
<rect x="238.95" y="245.55" width="4.70" height="4.70" stroke="#43435c"/>
<rect x="252.25" y="238.25" width="4.70" height="4.70" stroke="#43435c"/>
<path d="M254.60 235.30L257.60 240.60H251.60Z" stroke="#43435c"/>
<path d="M36.80 346.00L40.30 349.50L36.80 353.00L33.30 349.50Z" stroke="#43435c"/>
<circle cx="37.40" cy="354.40" r="3.3" stroke="#43435c"/>
<rect x="35.05" y="354.25" width="4.70" height="4.70" stroke="#43435c"/>
<circle cx="37.40" cy="360.00" r="3.3" stroke="#43435c"/>
<rect x="35.05" y="359.85" width="4.70" height="4.70" stroke="#43435c"/>
<rect x="35.55" y="362.85" width="4.70" height="4.70" stroke="#43435c"/>
<path d="M37.90 359.90L40.90 365.20H34.90Z" stroke="#43435c"/>
<rect x="36.65" y="382.25" width="4.70" height="4.70" stroke="#43435c"/>
<path d="M39.00 379.30L42.00 384.60H36.00Z" stroke="#43435c"/>
<circle cx="37.40" cy="390.60" r="3.3" stroke="#43435c"/>
<rect x="35.05" y="390.45" width="4.70" height="4.70" stroke="#43435c"/>
<circle cx="42.40" cy="391.20" r="3.3" stroke="#43435c"/>
<rect x="40.05" y="391.05" width="4.70" height="4.70" stroke="#43435c"/>
<rect x="35.05" y="394.55" width="4.70" height="4.70" stroke="#43435c"/>
<path d="M37.40 391.60L40.40 396.90H34.40Z" stroke="#43435c"/>
<circle cx="65.80" cy="350.00" r="3.3" stroke="#43435c"/>
<rect x="63.45" y="349.85" width="4.70" height="4.70" stroke="#43435c"/>
<path d="M66.10 344.40L69.60 347.90L66.10 351.40L62.60 347.90Z" stroke="#43435c"/>
<rect x="210.45" y="349.45" width="4.70" height="4.70" stroke="#43435c"/>
<path d="M212.80 346.50L215.80 351.80H209.80Z" stroke="#43435c"/>
<rect x="210.45" y="351.65" width="4.70" height="4.70" stroke="#43435c"/>
<path d="M231.70 359.00L235.20 362.50L231.70 366.00L228.20 362.50Z" stroke="#43435c"/>
<rect x="232.85" y="382.25" width="4.70" height="4.70" stroke="#43435c"/>
<path d="M235.20 379.30L238.20 384.60H232.20Z" stroke="#43435c"/>
<circle cx="240.80" cy="391.20" r="3.3" stroke="#43435c"/>
<rect x="238.45" y="391.05" width="4.70" height="4.70" stroke="#43435c"/>
<rect x="253.05" y="392.05" width="4.70" height="4.70" stroke="#43435c"/>
<path d="M255.40 389.10L258.40 394.40H252.40Z" stroke="#43435c"/>
<rect x="305.95" y="347.85" width="4.70" height="4.70" stroke="#43435c"/>
<path d="M308.30 344.90L311.30 350.20H305.30Z" stroke="#43435c"/>
<rect x="40.05" y="89.95" width="4.70" height="4.70" stroke="#2ec42e"/>
<path d="M42.40 88.80L45.90 92.30L42.40 95.80L38.90 92.30Z" stroke="#2ec42e"/>
<path d="M40.10 93.20L43.60 96.70L40.10 100.20L36.60 96.70Z" stroke="#2ec42e"/>
<circle cx="52.40" cy="100.60" r="3.3" stroke="#2ec42e"/>
<rect x="50.05" y="100.45" width="4.70" height="4.70" stroke="#2ec42e"/>
<rect x="73.85" y="73.85" width="4.70" height="4.70" stroke="#2ec42e"/>
<path d="M77.50 70.50L81.00 74.00L77.50 77.50L74.00 74.00Z" stroke="#2ec42e"/>
<rect x="90.45" y="75.95" width="4.70" height="4.70" stroke="#2ec42e"/>
<circle cx="225.60" cy="100.00" r="3.3" stroke="#2ec42e"/>
<rect x="223.25" y="99.85" width="4.70" height="4.70" stroke="#2ec42e"/>
<path d="M229.50 89.00L233.00 92.50L229.50 96.00L226.00 92.50Z" stroke="#2ec42e"/>
<path d="M228.30 90.00L231.80 93.50L228.30 97.00L224.80 93.50Z" stroke="#2ec42e"/>
<path d="M248.40 95.50L251.90 99.00L248.40 102.50L244.90 99.00Z" stroke="#2ec42e"/>
<path d="M255.60 74.30L259.10 77.80L255.60 81.30L252.10 77.80Z" stroke="#2ec42e"/>
<path d="M271.80 72.70L275.30 76.20L271.80 79.70L268.30 76.20Z" stroke="#2ec42e"/>
<path d="M282.00 78.00L285.50 81.50L282.00 85.00L278.50 81.50Z" stroke="#2ec42e"/>
<circle cx="42.40" cy="218.40" r="3.3" stroke="#2ec42e"/>
<rect x="40.05" y="218.25" width="4.70" height="4.70" stroke="#2ec42e"/>
<circle cx="42.40" cy="224.90" r="3.3" stroke="#2ec42e"/>
<rect x="40.05" y="224.75" width="4.70" height="4.70" stroke="#2ec42e"/>
<path d="M41.00 218.50L44.50 222.00L41.00 225.50L37.50 222.00Z" stroke="#2ec42e"/>
<circle cx="52.40" cy="221.70" r="3.3" stroke="#2ec42e"/>
<rect x="50.05" y="221.55" width="4.70" height="4.70" stroke="#2ec42e"/>
<rect x="74.95" y="201.05" width="4.70" height="4.70" stroke="#2ec42e"/>
<rect x="79.35" y="204.35" width="4.70" height="4.70" stroke="#2ec42e"/>
<circle cx="92.90" cy="218.40" r="3.3" stroke="#2ec42e"/>
<rect x="90.55" y="218.25" width="4.70" height="4.70" stroke="#2ec42e"/>
<circle cx="226.20" cy="221.70" r="3.3" stroke="#2ec42e"/>
<rect x="223.85" y="221.55" width="4.70" height="4.70" stroke="#2ec42e"/>
<path d="M229.50 217.80L233.00 221.30L229.50 224.80L226.00 221.30Z" stroke="#2ec42e"/>
<path d="M247.60 224.00L251.10 227.50L247.60 231.00L244.10 227.50Z" stroke="#2ec42e"/>
<path d="M256.20 204.30L259.70 207.80L256.20 211.30L252.70 207.80Z" stroke="#2ec42e"/>
<rect x="269.95" y="202.65" width="4.70" height="4.70" stroke="#2ec42e"/>
<path d="M278.40 216.00L281.90 219.50L278.40 223.00L274.90 219.50Z" stroke="#2ec42e"/>
<path d="M280.40 216.30L283.90 219.80L280.40 223.30L276.90 219.80Z" stroke="#2ec42e"/>
<path d="M248.90 223.30L252.40 226.80L248.90 230.30L245.40 226.80Z" stroke="#2ec42e"/>
<path d="M42.40 346.40L45.40 351.70H39.40Z" stroke="#2ec42e"/>
<path d="M42.40 346.00L45.90 349.50L42.40 353.00L38.90 349.50Z" stroke="#2ec42e"/>
<path d="M42.40 351.90L45.40 357.20H39.40Z" stroke="#2ec42e"/>
<rect x="40.05" y="350.85" width="4.70" height="4.70" stroke="#2ec42e"/>
<path d="M42.40 347.90L45.40 353.20H39.40Z" stroke="#2ec42e"/>
<path d="M41.80 358.80L45.30 362.30L41.80 365.80L38.30 362.30Z" stroke="#2ec42e"/>
<circle cx="53.00" cy="360.00" r="3.3" stroke="#2ec42e"/>
<rect x="50.65" y="359.85" width="4.70" height="4.70" stroke="#2ec42e"/>
<rect x="75.45" y="316.55" width="4.70" height="4.70" stroke="#2ec42e"/>
<rect x="79.35" y="323.25" width="4.70" height="4.70" stroke="#2ec42e"/>
<rect x="89.95" y="334.45" width="4.70" height="4.70" stroke="#2ec42e"/>
<path d="M92.30 331.50L95.30 336.80H89.30Z" stroke="#2ec42e"/>
<rect x="90.45" y="335.05" width="4.70" height="4.70" stroke="#2ec42e"/>
<path d="M92.80 332.10L95.80 337.40H89.80Z" stroke="#2ec42e"/>
<circle cx="225.40" cy="359.80" r="3.3" stroke="#2ec42e"/>
<rect x="223.05" y="359.65" width="4.70" height="4.70" stroke="#2ec42e"/>
<path d="M247.70 360.40L251.20 363.90L247.70 367.40L244.20 363.90Z" stroke="#2ec42e"/>
<path d="M228.90 348.60L232.40 352.10L228.90 355.60L225.40 352.10Z" stroke="#2ec42e"/>
<path d="M229.50 348.80L233.00 352.30L229.50 355.80L226.00 352.30Z" stroke="#2ec42e"/>
<path d="M225.60 354.80L228.60 360.10H222.60Z" stroke="#2ec42e"/>
<path d="M255.60 320.40L259.10 323.90L255.60 327.40L252.10 323.90Z" stroke="#2ec42e"/>
<path d="M255.10 319.40L258.60 322.90L255.10 326.40L251.60 322.90Z" stroke="#2ec42e"/>
<path d="M271.80 317.60L275.30 321.10L271.80 324.60L268.30 321.10Z" stroke="#2ec42e"/>
<path d="M278.40 333.10L281.40 338.40H275.40Z" stroke="#2ec42e"/>
<rect x="276.05" y="333.85" width="4.70" height="4.70" stroke="#2ec42e"/>
<path d="M280.40 332.70L283.40 338.00H277.40Z" stroke="#2ec42e"/>
<rect x="269.35" y="316.65" width="4.70" height="4.70" stroke="#2ec42e"/>
<path d="M257.20 319.90L260.70 323.40L257.20 326.90L253.70 323.40Z" stroke="#2ec42e"/>
</g>
<polygon points="212.80,218.80 217.51,218.72 222.22,218.61 226.93,218.45 231.64,218.24 236.35,218.00 241.06,217.71 245.77,217.39 250.48,217.02 255.19,216.60 259.90,216.15 264.61,215.65 269.32,215.12 274.03,214.54 278.74,213.91 283.45,213.25 288.16,212.54 292.87,211.80 297.58,211.01 302.29,210.17 307.00,209.30 307.00,217.70 302.29,217.66 297.58,217.65 292.87,217.69 288.16,217.78 283.45,217.90 278.74,218.07 274.03,218.27 269.32,218.52 264.61,218.82 259.90,219.15 255.19,219.53 250.48,219.94 245.77,220.40 241.06,220.91 236.35,221.45 231.64,222.04 226.93,222.66 222.22,223.33 217.51,224.05 212.80,224.80" fill="#cfcfcf" fill-opacity="0.8"/>
<polygon points="38.50,366.20 40.99,363.94 43.49,361.63 45.98,359.27 48.48,356.86 50.98,354.40 53.47,351.89 55.97,349.33 58.46,346.72 60.95,344.06 63.45,341.35 65.95,338.59 68.44,335.78 70.94,332.92 73.43,330.01 75.93,327.05 78.42,324.04 80.92,320.98 83.41,317.87 85.91,314.71 88.40,311.50 88.40,317.50 85.91,319.96 83.41,322.47 80.92,325.03 78.42,327.64 75.93,330.30 73.43,333.01 70.94,335.77 68.44,338.58 65.95,341.44 63.45,344.35 60.95,347.31 58.46,350.32 55.97,353.38 53.47,356.49 50.98,359.65 48.48,362.86 45.98,366.12 43.49,369.43 40.99,372.79 38.50,376.20" fill="#cfcfcf" fill-opacity="0.8"/>
<polygon points="89.50,325.80 92.44,328.00 95.38,330.17 98.32,332.33 101.26,334.46 104.20,336.57 107.14,338.67 110.08,340.75 113.02,342.80 115.96,344.84 118.90,346.85 121.84,348.84 124.78,350.82 127.72,352.77 130.66,354.71 133.60,356.62 136.54,358.52 139.48,360.39 142.42,362.25 145.36,364.08 148.30,365.90 148.30,370.90 145.36,368.60 142.42,366.33 139.48,364.07 136.54,361.84 133.60,359.62 130.66,357.43 127.72,355.25 124.78,353.10 121.84,350.96 118.90,348.85 115.96,346.75 113.02,344.68 110.08,342.62 107.14,340.59 104.20,338.57 101.26,336.58 98.32,334.61 95.38,332.65 92.44,330.72 89.50,328.80" fill="#cfcfcf" fill-opacity="0.8"/>
<polygon points="212.80,349.40 217.58,348.24 222.35,347.02 227.12,345.74 231.90,344.40 236.68,343.01 241.45,341.56 246.23,340.06 251.00,338.50 255.78,336.88 260.55,335.20 265.33,333.47 270.10,331.68 274.88,329.83 279.65,327.92 284.43,325.96 289.20,323.94 293.98,321.87 298.75,319.74 303.52,317.55 308.30,315.30 308.30,328.30 303.52,329.21 298.75,330.18 293.98,331.21 289.20,332.30 284.43,333.44 279.65,334.64 274.88,335.89 270.10,337.20 265.33,338.57 260.55,340.00 255.78,341.48 251.00,343.02 246.23,344.62 241.45,346.28 236.68,347.99 231.90,349.76 227.12,351.58 222.35,353.46 217.58,355.40 212.80,357.40" fill="#cfcfcf" fill-opacity="0.8"/>
<polygon points="212.80,92.30 217.61,91.32 222.42,90.30 227.23,89.23 232.04,88.12 236.85,86.97 241.66,85.78 246.47,84.55 251.28,83.28 256.09,81.96 260.90,80.60 265.71,79.20 270.52,77.76 275.33,76.27 280.14,74.74 284.95,73.17 289.76,71.56 294.57,69.91 299.38,68.22 304.19,66.48 309.00,64.70 309.00,73.10 304.19,73.94 299.38,74.82 294.57,75.75 289.76,76.72 284.95,77.73 280.14,78.78 275.33,79.87 270.52,81.00 265.71,82.18 260.90,83.40 256.09,84.66 251.28,85.96 246.47,87.31 241.66,88.70 236.85,90.12 232.04,91.60 227.23,93.11 222.42,94.66 217.61,96.26 212.80,97.90" fill="#cfcfcf" fill-opacity="0.8"/>
<line x1="37.4" y1="104.0" x2="88.6" y2="72.6" stroke="#000" stroke-width="1.5"/>
<line x1="88.4" y1="77.1" x2="148.6" y2="92.8" stroke="#000" stroke-width="1.5"/>
<line x1="37.9" y1="230.1" x2="90.6" y2="203.4" stroke="#000" stroke-width="1.5"/>
<line x1="91.7" y1="213.4" x2="148.4" y2="236.7" stroke="#000" stroke-width="1.5"/>
<line x1="212.8" y1="221.8" x2="307.0" y2="213.5" stroke="#000" stroke-width="1.5"/>
<line x1="38.5" y1="371.2" x2="88.4" y2="314.5" stroke="#000" stroke-width="1.5"/>
<line x1="89.5" y1="327.3" x2="148.3" y2="368.4" stroke="#000" stroke-width="1.5"/>
<line x1="212.8" y1="353.4" x2="308.3" y2="321.8" stroke="#000" stroke-width="1.5"/>
<line x1="212.8" y1="95.1" x2="309.0" y2="68.9" stroke="#000" stroke-width="1.5"/>
<rect x="29.5" y="23.5" width="162.0" height="125.0" fill="none" stroke="#1a1a1a" stroke-width="1.2"/>
<rect x="196.5" y="23.5" width="162.0" height="125.0" fill="none" stroke="#1a1a1a" stroke-width="1.2"/>
<rect x="29.5" y="153.5" width="162.0" height="125.0" fill="none" stroke="#1a1a1a" stroke-width="1.2"/>
<rect x="196.5" y="153.5" width="162.0" height="125.0" fill="none" stroke="#1a1a1a" stroke-width="1.2"/>
<rect x="29.5" y="283.5" width="162.0" height="125.0" fill="none" stroke="#1a1a1a" stroke-width="1.2"/>
<rect x="196.5" y="283.5" width="162.0" height="125.0" fill="none" stroke="#1a1a1a" stroke-width="1.2"/>
<path d="M25.3 28.75H29.5 M191.5 28.75H196.5 M25.3 41.45H29.5 M191.5 41.45H196.5 M25.3 54.15H29.5 M191.5 54.15H196.5 M25.3 66.85H29.5 M191.5 66.85H196.5 M25.3 79.55H29.5 M191.5 79.55H196.5 M25.3 92.25H29.5 M191.5 92.25H196.5 M25.3 104.95H29.5 M191.5 104.95H196.5 M25.3 117.65H29.5 M191.5 117.65H196.5 M25.3 130.35H29.5 M191.5 130.35H196.5 M25.3 143.05H29.5 M191.5 143.05H196.5 M25.3 158.75H29.5 M191.5 158.75H196.5 M25.3 171.45H29.5 M191.5 171.45H196.5 M25.3 184.15H29.5 M191.5 184.15H196.5 M25.3 196.85H29.5 M191.5 196.85H196.5 M25.3 209.55H29.5 M191.5 209.55H196.5 M25.3 222.25H29.5 M191.5 222.25H196.5 M25.3 234.95H29.5 M191.5 234.95H196.5 M25.3 247.65H29.5 M191.5 247.65H196.5 M25.3 260.35H29.5 M191.5 260.35H196.5 M25.3 273.05H29.5 M191.5 273.05H196.5 M25.3 288.75H29.5 M191.5 288.75H196.5 M25.3 301.45H29.5 M191.5 301.45H196.5 M25.3 314.15H29.5 M191.5 314.15H196.5 M25.3 326.85H29.5 M191.5 326.85H196.5 M25.3 339.55H29.5 M191.5 339.55H196.5 M25.3 352.25H29.5 M191.5 352.25H196.5 M25.3 364.95H29.5 M191.5 364.95H196.5 M25.3 377.65H29.5 M191.5 377.65H196.5 M25.3 390.35H29.5 M191.5 390.35H196.5 M25.3 403.05H29.5 M191.5 403.05H196.5 M36.80 148.5V153.5 M203.30 148.5V153.5 M36.80 278.5V283.5 M203.30 278.5V283.5 M36.80 408.5V413 M203.30 408.5V413 M73.70 148.5V153.5 M240.35 148.5V153.5 M73.70 278.5V283.5 M240.35 278.5V283.5 M73.70 408.5V413 M240.35 408.5V413 M110.60 148.5V153.5 M277.40 148.5V153.5 M110.60 278.5V283.5 M277.40 278.5V283.5 M110.60 408.5V413 M277.40 408.5V413 M147.50 148.5V153.5 M314.45 148.5V153.5 M147.50 278.5V283.5 M314.45 278.5V283.5 M147.50 408.5V413 M314.45 408.5V413 M184.40 148.5V153.5 M351.50 148.5V153.5 M184.40 278.5V283.5 M351.50 278.5V283.5 M184.40 408.5V413 M351.50 408.5V413 M202.00 17.3V23.5 M239.00 17.3V23.5 M276.00 17.3V23.5 M313.00 17.3V23.5 M350.00 17.3V23.5" stroke="#1a1a1a" stroke-width="1.1" fill="none"/>
<text transform="translate(21.4 31.15) scale(1 1.12)" text-anchor="end" class="n">25</text>
<text transform="translate(21.4 43.85) scale(1 1.12)" text-anchor="end" class="n">20</text>
<text transform="translate(21.4 56.55) scale(1 1.12)" text-anchor="end" class="n">15</text>
<text transform="translate(21.4 69.25) scale(1 1.12)" text-anchor="end" class="n">10</text>
<text transform="translate(21.4 81.95) scale(1 1.12)" text-anchor="end" class="n">5</text>
<text transform="translate(21.4 94.65) scale(1 1.12)" text-anchor="end" class="n">0</text>
<text transform="translate(21.4 107.35) scale(1 1.12)" text-anchor="end" class="n">-5</text>
<text transform="translate(21.4 120.05) scale(1 1.12)" text-anchor="end" class="n">-10</text>
<text transform="translate(21.4 132.75) scale(1 1.12)" text-anchor="end" class="n">-15</text>
<text transform="translate(21.4 145.45) scale(1 1.12)" text-anchor="end" class="n">-20</text>
<text transform="translate(21.4 161.15) scale(1 1.12)" text-anchor="end" class="n">25</text>
<text transform="translate(21.4 173.85) scale(1 1.12)" text-anchor="end" class="n">20</text>
<text transform="translate(21.4 186.55) scale(1 1.12)" text-anchor="end" class="n">15</text>
<text transform="translate(21.4 199.25) scale(1 1.12)" text-anchor="end" class="n">10</text>
<text transform="translate(21.4 211.95) scale(1 1.12)" text-anchor="end" class="n">5</text>
<text transform="translate(21.4 224.65) scale(1 1.12)" text-anchor="end" class="n">0</text>
<text transform="translate(21.4 237.35) scale(1 1.12)" text-anchor="end" class="n">-5</text>
<text transform="translate(21.4 250.05) scale(1 1.12)" text-anchor="end" class="n">-10</text>
<text transform="translate(21.4 262.75) scale(1 1.12)" text-anchor="end" class="n">-15</text>
<text transform="translate(21.4 275.45) scale(1 1.12)" text-anchor="end" class="n">-20</text>
<text transform="translate(21.4 291.15) scale(1 1.12)" text-anchor="end" class="n">25</text>
<text transform="translate(21.4 303.85) scale(1 1.12)" text-anchor="end" class="n">20</text>
<text transform="translate(21.4 316.55) scale(1 1.12)" text-anchor="end" class="n">15</text>
<text transform="translate(21.4 329.25) scale(1 1.12)" text-anchor="end" class="n">10</text>
<text transform="translate(21.4 341.95) scale(1 1.12)" text-anchor="end" class="n">5</text>
<text transform="translate(21.4 354.65) scale(1 1.12)" text-anchor="end" class="n">0</text>
<text transform="translate(21.4 367.35) scale(1 1.12)" text-anchor="end" class="n">-5</text>
<text transform="translate(21.4 380.05) scale(1 1.12)" text-anchor="end" class="n">-10</text>
<text transform="translate(21.4 392.75) scale(1 1.12)" text-anchor="end" class="n">-15</text>
<text transform="translate(21.4 405.45) scale(1 1.12)" text-anchor="end" class="n">-20</text>
<text transform="translate(35.40 419.7) scale(1 1.12)" text-anchor="middle" class="n">0</text>
<text transform="translate(201.60 419.7) scale(1 1.12)" text-anchor="middle" class="n">0</text>
<text transform="translate(72.30 419.7) scale(1 1.12)" text-anchor="middle" class="n">25</text>
<text transform="translate(238.65 419.7) scale(1 1.12)" text-anchor="middle" class="n">25</text>
<text transform="translate(109.20 419.7) scale(1 1.12)" text-anchor="middle" class="n">50</text>
<text transform="translate(275.70 419.7) scale(1 1.12)" text-anchor="middle" class="n">50</text>
<text transform="translate(146.10 419.7) scale(1 1.12)" text-anchor="middle" class="n">75</text>
<text transform="translate(312.75 419.7) scale(1 1.12)" text-anchor="middle" class="n">75</text>
<text transform="translate(183.00 419.7) scale(1 1.12)" text-anchor="middle" class="n">100</text>
<text transform="translate(349.80 419.7) scale(1 1.12)" text-anchor="middle" class="n">100</text>
<text transform="translate(202.00 15.6) scale(1 1.12)" text-anchor="middle" class="n">100</text>
<text transform="translate(239.00 15.6) scale(1 1.12)" text-anchor="middle" class="n">75</text>
<text transform="translate(276.00 15.6) scale(1 1.12)" text-anchor="middle" class="n">50</text>
<text transform="translate(313.00 15.6) scale(1 1.12)" text-anchor="middle" class="n">25</text>
<text transform="translate(350.00 15.6) scale(1 1.12)" text-anchor="middle" class="n">0</text>
<text transform="translate(106.5 428.2) scale(0.833 1.0)" text-anchor="middle" class="b" style="font-size:9.6px">% Impervious, 500 m buffer</text>
<text transform="translate(276 428.2) scale(0.833 1.0)" text-anchor="middle" class="b" style="font-size:9.6px">% Grass in Pervious Area, 500 m buffer</text>
<text transform="translate(275.8 6.0) scale(1 1.12)" text-anchor="middle" class="b">% Trees in Pervious Area, 500 m buffer</text>
<text transform="translate(6.7 80) rotate(-90) scale(0.88 1)" text-anchor="middle" class="b" style="font-size:8px;stroke-width:0.3px">SOS<tspan style="font-size:5.6px" dy="1.6">Diff</tspan><tspan dy="-1.6"> [days]</tspan></text>
<text transform="translate(6.7 210) rotate(-90) scale(0.88 1)" text-anchor="middle" class="b" style="font-size:8px;stroke-width:0.3px">EOS<tspan style="font-size:5.6px" dy="1.6">Diff</tspan><tspan dy="-1.6"> [days]</tspan></text>
<text transform="translate(6.7 340) rotate(-90) scale(0.88 1)" text-anchor="middle" class="b" style="font-size:8px;stroke-width:0.3px">GSL<tspan style="font-size:5.6px" dy="1.6">Diff</tspan><tspan dy="-1.6"> [days]</tspan></text>
<text transform="translate(31.4 135.2) scale(1 1.12)" class="t">Slope = 0.352</text>
<text transform="translate(31.4 145.0) scale(1 1.12)" class="t">R<tspan class="sup" dy="-3">2</tspan><tspan dy="3"> = 0.71</tspan></text>
<text transform="translate(109 135.2) scale(1 1.12)" class="t">Slope = -0.143</text>
<text transform="translate(109 145.0) scale(1 1.12)" class="t">R<tspan class="sup" dy="-3">2</tspan><tspan dy="3"> = 0.22</tspan></text>
<text transform="translate(298.9 32.0) scale(1 1.12)" class="t">Slope = 0.160</text>
<text transform="translate(298.9 41.8) scale(1 1.12)" class="t">R<tspan class="sup" dy="-3">2</tspan><tspan dy="3"> = 0.24</tspan></text>
<text transform="translate(31.4 265.1) scale(1 1.12)" class="t">Slope = 0.302</text>
<text transform="translate(31.4 274.90000000000003) scale(1 1.12)" class="t">R<tspan class="sup" dy="-3">2</tspan><tspan dy="3"> = 0.61</tspan></text>
<text transform="translate(109 265.1) scale(1 1.12)" class="t">Slope = -0.246</text>
<text transform="translate(109 274.90000000000003) scale(1 1.12)" class="t">R<tspan class="sup" dy="-3">2</tspan><tspan dy="3"> = 0.39</tspan></text>
<text transform="translate(298.9 162.0) scale(1 1.12)" class="t">Slope = 0.056</text>
<text transform="translate(298.9 171.8) scale(1 1.12)" class="t">R<tspan class="sup" dy="-3">2</tspan><tspan dy="3"> = 0.02</tspan></text>
<text transform="translate(50.9 393.5) scale(1 1.12)" class="t">Slope = 0.650</text>
<text transform="translate(50.9 403.3) scale(1 1.12)" class="t">R<tspan class="sup" dy="-3">2</tspan><tspan dy="3"> = 0.73</tspan></text>
<text transform="translate(108.6 393.5) scale(1 1.12)" class="t">Slope = -0.414</text>
<text transform="translate(108.6 403.3) scale(1 1.12)" class="t">R<tspan class="sup" dy="-3">2</tspan><tspan dy="3"> = 0.41</tspan></text>
<text transform="translate(298.9 292.0) scale(1 1.12)" class="t">Slope = 0.201</text>
<text transform="translate(298.9 301.8) scale(1 1.12)" class="t">R<tspan class="sup" dy="-3">2</tspan><tspan dy="3"> = 0.10</tspan></text>
<text transform="translate(30.3 30.1)" class="b" style="font-size:7.8px">Sensor Type:</text>
<text transform="translate(33 37.6)" class="t" style="color:#43435c;font-size:7.9px">Rural</text>
<text transform="translate(33 45.1)" class="t" style="color:#2ec42e;font-size:7.9px">Park</text>
<text transform="translate(33 52.7)" class="t" style="color:#a05c22;font-size:7.9px">Urban</text>
<text transform="translate(138.3 30.1)" class="b" style="font-size:7.8px">Sensor Year:</text>
<text transform="translate(154.2 39.4)" class="t">2012</text>
<text transform="translate(154.2 48.7)" class="t">2013</text>
<text transform="translate(154.2 57.6)" class="t">2014</text>
<rect x="141.9" y="35" width="5.2" height="5.2" fill="none" stroke="#000" stroke-width="1.1"/>
<path d="M144.4 43 L147.9 49.3 H140.9 Z" fill="none" stroke="#000" stroke-width="1.1"/>
<path d="M144.5 52.9 L148.6 56.8 L144.5 60.7 L140.4 56.8 Z" fill="none" stroke="#000" stroke-width="1.1"/>
</svg></body></html>
